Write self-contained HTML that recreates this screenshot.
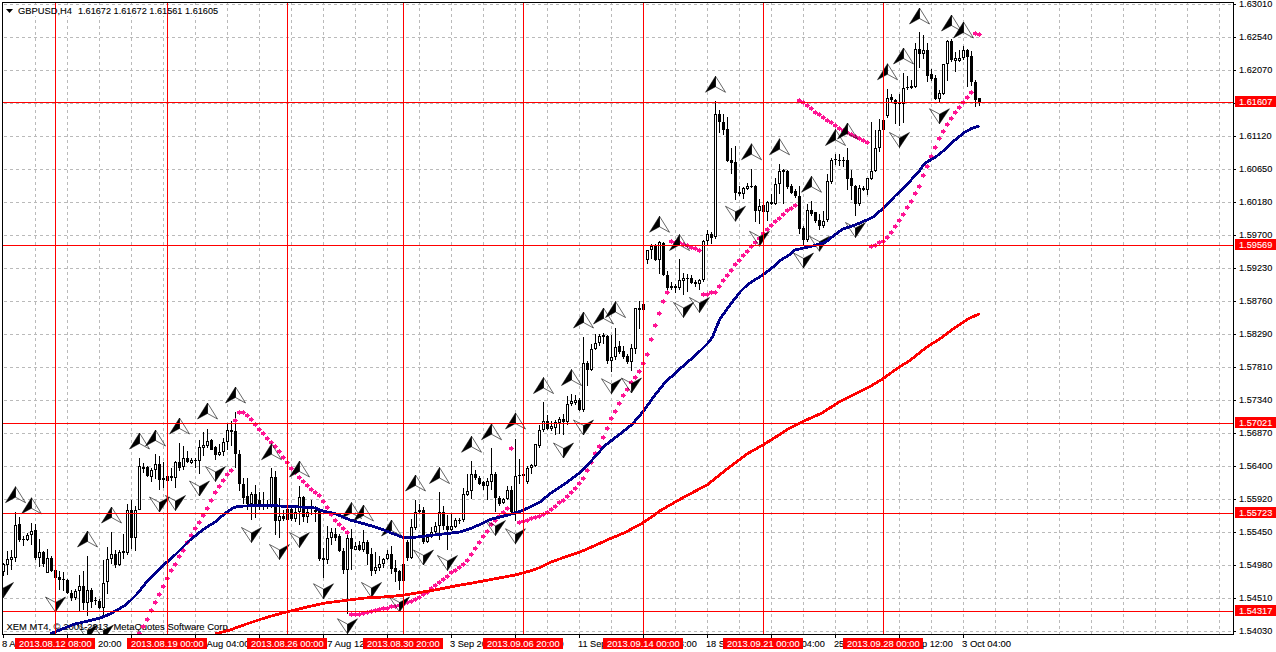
<!DOCTYPE html><html><head><meta charset="utf-8"><title>GBPUSD,H4</title><style>
html,body{margin:0;padding:0;background:#fff}body{width:1276px;height:652px;overflow:hidden;position:relative}
svg{position:absolute;left:0;top:0;display:block}text{font-family:"Liberation Sans",sans-serif;font-size:9.8px;fill:#000;stroke:#000;stroke-width:0.1px}
.w{fill:#fff;stroke:#fff}.g{stroke:#bababa;stroke-width:1;stroke-dasharray:3 3;fill:none}.r{stroke:#ff0000;stroke-width:1;fill:none}
</style></head><body>
<svg width="1276" height="652" viewBox="0 0 1276 652">
<rect x="0" y="0" width="1276" height="652" fill="#fff"/>
<defs><clipPath id="c"><rect x="3" y="3" width="1230" height="631"/></clipPath></defs>
<g shape-rendering="crispEdges">
<line class="g" x1="35.5" y1="3" x2="35.5" y2="634" stroke-dashoffset="1"/>
<line class="g" x1="67.5" y1="3" x2="67.5" y2="634" stroke-dashoffset="1"/>
<line class="g" x1="99.5" y1="3" x2="99.5" y2="634" stroke-dashoffset="1"/>
<line class="g" x1="131.5" y1="3" x2="131.5" y2="634" stroke-dashoffset="1"/>
<line class="g" x1="163.5" y1="3" x2="163.5" y2="634" stroke-dashoffset="1"/>
<line class="g" x1="195.5" y1="3" x2="195.5" y2="634" stroke-dashoffset="1"/>
<line class="g" x1="227.5" y1="3" x2="227.5" y2="634" stroke-dashoffset="1"/>
<line class="g" x1="259.5" y1="3" x2="259.5" y2="634" stroke-dashoffset="1"/>
<line class="g" x1="291.5" y1="3" x2="291.5" y2="634" stroke-dashoffset="1"/>
<line class="g" x1="323.5" y1="3" x2="323.5" y2="634" stroke-dashoffset="1"/>
<line class="g" x1="355.5" y1="3" x2="355.5" y2="634" stroke-dashoffset="1"/>
<line class="g" x1="387.5" y1="3" x2="387.5" y2="634" stroke-dashoffset="1"/>
<line class="g" x1="419.5" y1="3" x2="419.5" y2="634" stroke-dashoffset="1"/>
<line class="g" x1="451.5" y1="3" x2="451.5" y2="634" stroke-dashoffset="1"/>
<line class="g" x1="483.5" y1="3" x2="483.5" y2="634" stroke-dashoffset="1"/>
<line class="g" x1="515.5" y1="3" x2="515.5" y2="634" stroke-dashoffset="1"/>
<line class="g" x1="547.5" y1="3" x2="547.5" y2="634" stroke-dashoffset="1"/>
<line class="g" x1="579.5" y1="3" x2="579.5" y2="634" stroke-dashoffset="1"/>
<line class="g" x1="611.5" y1="3" x2="611.5" y2="634" stroke-dashoffset="1"/>
<line class="g" x1="643.5" y1="3" x2="643.5" y2="634" stroke-dashoffset="1"/>
<line class="g" x1="675.5" y1="3" x2="675.5" y2="634" stroke-dashoffset="1"/>
<line class="g" x1="707.5" y1="3" x2="707.5" y2="634" stroke-dashoffset="1"/>
<line class="g" x1="739.5" y1="3" x2="739.5" y2="634" stroke-dashoffset="1"/>
<line class="g" x1="771.5" y1="3" x2="771.5" y2="634" stroke-dashoffset="1"/>
<line class="g" x1="803.5" y1="3" x2="803.5" y2="634" stroke-dashoffset="1"/>
<line class="g" x1="835.5" y1="3" x2="835.5" y2="634" stroke-dashoffset="1"/>
<line class="g" x1="867.5" y1="3" x2="867.5" y2="634" stroke-dashoffset="1"/>
<line class="g" x1="899.5" y1="3" x2="899.5" y2="634" stroke-dashoffset="1"/>
<line class="g" x1="931.5" y1="3" x2="931.5" y2="634" stroke-dashoffset="1"/>
<line class="g" x1="963.5" y1="3" x2="963.5" y2="634" stroke-dashoffset="1"/>
<line class="g" x1="995.5" y1="3" x2="995.5" y2="634" stroke-dashoffset="1"/>
<line class="g" x1="1027.5" y1="3" x2="1027.5" y2="634" stroke-dashoffset="1"/>
<line class="g" x1="1059.5" y1="3" x2="1059.5" y2="634" stroke-dashoffset="1"/>
<line class="g" x1="1091.5" y1="3" x2="1091.5" y2="634" stroke-dashoffset="1"/>
<line class="g" x1="1123.5" y1="3" x2="1123.5" y2="634" stroke-dashoffset="1"/>
<line class="g" x1="1155.5" y1="3" x2="1155.5" y2="634" stroke-dashoffset="1"/>
<line class="g" x1="1187.5" y1="3" x2="1187.5" y2="634" stroke-dashoffset="1"/>
<line class="g" x1="1219.5" y1="3" x2="1219.5" y2="634" stroke-dashoffset="1"/>
<line class="g" x1="4" y1="4.5" x2="1233" y2="4.5"/>
<line class="g" x1="4" y1="37.5" x2="1233" y2="37.5"/>
<line class="g" x1="4" y1="70.5" x2="1233" y2="70.5"/>
<line class="g" x1="4" y1="103.5" x2="1233" y2="103.5"/>
<line class="g" x1="4" y1="136.5" x2="1233" y2="136.5"/>
<line class="g" x1="4" y1="169.5" x2="1233" y2="169.5"/>
<line class="g" x1="4" y1="202.5" x2="1233" y2="202.5"/>
<line class="g" x1="4" y1="235.5" x2="1233" y2="235.5"/>
<line class="g" x1="4" y1="268.5" x2="1233" y2="268.5"/>
<line class="g" x1="4" y1="301.5" x2="1233" y2="301.5"/>
<line class="g" x1="4" y1="334.5" x2="1233" y2="334.5"/>
<line class="g" x1="4" y1="367.5" x2="1233" y2="367.5"/>
<line class="g" x1="4" y1="400.5" x2="1233" y2="400.5"/>
<line class="g" x1="4" y1="433.5" x2="1233" y2="433.5"/>
<line class="g" x1="4" y1="466.5" x2="1233" y2="466.5"/>
<line class="g" x1="4" y1="499.5" x2="1233" y2="499.5"/>
<line class="g" x1="4" y1="532.5" x2="1233" y2="532.5"/>
<line class="g" x1="4" y1="565.5" x2="1233" y2="565.5"/>
<line class="g" x1="4" y1="598.5" x2="1233" y2="598.5"/>
<line class="g" x1="4" y1="631.5" x2="1233" y2="631.5"/>
</g>
<rect x="4" y="5" width="216" height="11" fill="#fff"/>
<text transform="translate(6.5 630) scale(0.962 1)" xml:space="preserve">XEM MT4, © 2001-2013, MetaQuotes Software Corp.</text>
<g shape-rendering="crispEdges" clip-path="url(#c)">
<rect x="3" y="563" width="1" height="13" fill="#000"/>
<rect x="2" y="564" width="3" height="8" fill="#000"/>
<rect x="3" y="565" width="1" height="6" fill="#fff"/>
<rect x="7" y="551" width="1" height="24" fill="#000"/>
<rect x="6" y="559" width="3" height="6" fill="#000"/>
<rect x="7" y="560" width="1" height="4" fill="#fff"/>
<rect x="11" y="550" width="1" height="20" fill="#000"/>
<rect x="10" y="557" width="3" height="3" fill="#000"/>
<rect x="11" y="558" width="1" height="1" fill="#fff"/>
<rect x="15" y="512" width="1" height="50" fill="#000"/>
<rect x="14" y="525" width="3" height="33" fill="#000"/>
<rect x="15" y="526" width="1" height="31" fill="#fff"/>
<rect x="19" y="517" width="1" height="25" fill="#000"/>
<rect x="18" y="524" width="3" height="16" fill="#000"/>
<rect x="23" y="536" width="1" height="10" fill="#000"/>
<rect x="22" y="539" width="3" height="1" fill="#000"/>
<rect x="27" y="533" width="1" height="8" fill="#000"/>
<rect x="26" y="535" width="3" height="5" fill="#000"/>
<rect x="27" y="536" width="1" height="3" fill="#fff"/>
<rect x="31" y="523" width="1" height="22" fill="#000"/>
<rect x="30" y="531" width="3" height="4" fill="#000"/>
<rect x="31" y="532" width="1" height="2" fill="#fff"/>
<rect x="35" y="524" width="1" height="36" fill="#000"/>
<rect x="34" y="530" width="3" height="28" fill="#000"/>
<rect x="39" y="539" width="1" height="28" fill="#000"/>
<rect x="38" y="552" width="3" height="6" fill="#000"/>
<rect x="39" y="553" width="1" height="4" fill="#fff"/>
<rect x="43" y="551" width="1" height="16" fill="#000"/>
<rect x="42" y="552" width="3" height="12" fill="#000"/>
<rect x="47" y="549" width="1" height="24" fill="#000"/>
<rect x="46" y="558" width="3" height="15" fill="#000"/>
<rect x="47" y="559" width="1" height="13" fill="#fff"/>
<rect x="51" y="556" width="1" height="16" fill="#000"/>
<rect x="50" y="558" width="3" height="13" fill="#000"/>
<rect x="55" y="570" width="1" height="21" fill="#000"/>
<rect x="54" y="570" width="3" height="8" fill="#000"/>
<rect x="59" y="571" width="1" height="19" fill="#000"/>
<rect x="58" y="577" width="3" height="3" fill="#000"/>
<rect x="63" y="572" width="1" height="19" fill="#000"/>
<rect x="62" y="579" width="3" height="1" fill="#000"/>
<rect x="67" y="579" width="1" height="15" fill="#000"/>
<rect x="66" y="580" width="3" height="13" fill="#000"/>
<rect x="71" y="590" width="1" height="11" fill="#000"/>
<rect x="70" y="593" width="3" height="5" fill="#000"/>
<rect x="75" y="589" width="1" height="11" fill="#000"/>
<rect x="74" y="591" width="3" height="7" fill="#000"/>
<rect x="75" y="592" width="1" height="5" fill="#fff"/>
<rect x="79" y="575" width="1" height="37" fill="#000"/>
<rect x="78" y="586" width="3" height="5" fill="#000"/>
<rect x="79" y="587" width="1" height="3" fill="#fff"/>
<rect x="83" y="571" width="1" height="39" fill="#000"/>
<rect x="82" y="586" width="3" height="17" fill="#000"/>
<rect x="87" y="556" width="1" height="60" fill="#000"/>
<rect x="86" y="590" width="3" height="13" fill="#000"/>
<rect x="87" y="591" width="1" height="11" fill="#fff"/>
<rect x="91" y="588" width="1" height="20" fill="#000"/>
<rect x="90" y="590" width="3" height="12" fill="#000"/>
<rect x="95" y="597" width="1" height="8" fill="#000"/>
<rect x="94" y="600" width="3" height="1" fill="#000"/>
<rect x="99" y="599" width="1" height="10" fill="#000"/>
<rect x="98" y="601" width="3" height="7" fill="#000"/>
<rect x="103" y="560" width="1" height="56" fill="#000"/>
<rect x="102" y="583" width="3" height="25" fill="#000"/>
<rect x="103" y="584" width="1" height="23" fill="#fff"/>
<rect x="107" y="547" width="1" height="47" fill="#000"/>
<rect x="106" y="559" width="3" height="23" fill="#000"/>
<rect x="107" y="560" width="1" height="21" fill="#fff"/>
<rect x="111" y="532" width="1" height="32" fill="#000"/>
<rect x="110" y="554" width="3" height="5" fill="#000"/>
<rect x="111" y="555" width="1" height="3" fill="#fff"/>
<rect x="115" y="550" width="1" height="18" fill="#000"/>
<rect x="114" y="554" width="3" height="11" fill="#000"/>
<rect x="119" y="550" width="1" height="16" fill="#000"/>
<rect x="118" y="552" width="3" height="13" fill="#000"/>
<rect x="119" y="553" width="1" height="11" fill="#fff"/>
<rect x="123" y="534" width="1" height="25" fill="#000"/>
<rect x="122" y="551" width="3" height="2" fill="#000"/>
<rect x="127" y="504" width="1" height="51" fill="#000"/>
<rect x="126" y="510" width="3" height="43" fill="#000"/>
<rect x="127" y="511" width="1" height="41" fill="#fff"/>
<rect x="131" y="500" width="1" height="49" fill="#000"/>
<rect x="130" y="510" width="3" height="28" fill="#000"/>
<rect x="135" y="506" width="1" height="45" fill="#000"/>
<rect x="134" y="510" width="3" height="28" fill="#000"/>
<rect x="135" y="511" width="1" height="26" fill="#fff"/>
<rect x="139" y="458" width="1" height="52" fill="#000"/>
<rect x="138" y="466" width="3" height="44" fill="#000"/>
<rect x="139" y="467" width="1" height="42" fill="#fff"/>
<rect x="143" y="463" width="1" height="10" fill="#000"/>
<rect x="142" y="467" width="3" height="2" fill="#000"/>
<rect x="147" y="466" width="1" height="11" fill="#000"/>
<rect x="146" y="467" width="3" height="9" fill="#000"/>
<rect x="151" y="468" width="1" height="14" fill="#000"/>
<rect x="150" y="470" width="3" height="7" fill="#000"/>
<rect x="151" y="471" width="1" height="5" fill="#fff"/>
<rect x="155" y="454" width="1" height="25" fill="#000"/>
<rect x="154" y="464" width="3" height="6" fill="#000"/>
<rect x="155" y="465" width="1" height="4" fill="#fff"/>
<rect x="159" y="456" width="1" height="34" fill="#000"/>
<rect x="158" y="464" width="3" height="16" fill="#000"/>
<rect x="163" y="462" width="1" height="26" fill="#000"/>
<rect x="162" y="478" width="3" height="2" fill="#000"/>
<rect x="167" y="475" width="1" height="7" fill="#000"/>
<rect x="166" y="476" width="3" height="5" fill="#000"/>
<rect x="171" y="468" width="1" height="13" fill="#000"/>
<rect x="170" y="476" width="3" height="2" fill="#000"/>
<rect x="175" y="461" width="1" height="27" fill="#000"/>
<rect x="174" y="462" width="3" height="16" fill="#000"/>
<rect x="175" y="463" width="1" height="14" fill="#fff"/>
<rect x="179" y="443" width="1" height="28" fill="#000"/>
<rect x="178" y="462" width="3" height="6" fill="#000"/>
<rect x="183" y="446" width="1" height="24" fill="#000"/>
<rect x="182" y="458" width="3" height="9" fill="#000"/>
<rect x="183" y="459" width="1" height="7" fill="#fff"/>
<rect x="187" y="451" width="1" height="12" fill="#000"/>
<rect x="186" y="458" width="3" height="4" fill="#000"/>
<rect x="191" y="458" width="1" height="6" fill="#000"/>
<rect x="190" y="460" width="3" height="3" fill="#000"/>
<rect x="191" y="461" width="1" height="1" fill="#fff"/>
<rect x="195" y="458" width="1" height="10" fill="#000"/>
<rect x="194" y="460" width="3" height="1" fill="#000"/>
<rect x="199" y="440" width="1" height="34" fill="#000"/>
<rect x="198" y="447" width="3" height="14" fill="#000"/>
<rect x="199" y="448" width="1" height="12" fill="#fff"/>
<rect x="203" y="432" width="1" height="24" fill="#000"/>
<rect x="202" y="445" width="3" height="3" fill="#000"/>
<rect x="203" y="446" width="1" height="1" fill="#fff"/>
<rect x="207" y="429" width="1" height="19" fill="#000"/>
<rect x="206" y="441" width="3" height="5" fill="#000"/>
<rect x="207" y="442" width="1" height="3" fill="#fff"/>
<rect x="211" y="439" width="1" height="11" fill="#000"/>
<rect x="210" y="440" width="3" height="10" fill="#000"/>
<rect x="215" y="446" width="1" height="14" fill="#000"/>
<rect x="214" y="447" width="3" height="8" fill="#000"/>
<rect x="219" y="444" width="1" height="12" fill="#000"/>
<rect x="218" y="452" width="3" height="3" fill="#000"/>
<rect x="219" y="453" width="1" height="1" fill="#fff"/>
<rect x="223" y="438" width="1" height="18" fill="#000"/>
<rect x="222" y="442" width="3" height="10" fill="#000"/>
<rect x="223" y="443" width="1" height="8" fill="#fff"/>
<rect x="227" y="424" width="1" height="26" fill="#000"/>
<rect x="226" y="430" width="3" height="12" fill="#000"/>
<rect x="227" y="431" width="1" height="10" fill="#fff"/>
<rect x="231" y="421" width="1" height="25" fill="#000"/>
<rect x="230" y="430" width="3" height="2" fill="#000"/>
<rect x="235" y="412" width="1" height="56" fill="#000"/>
<rect x="234" y="431" width="3" height="23" fill="#000"/>
<rect x="239" y="450" width="1" height="41" fill="#000"/>
<rect x="238" y="454" width="3" height="30" fill="#000"/>
<rect x="243" y="478" width="1" height="26" fill="#000"/>
<rect x="242" y="484" width="3" height="14" fill="#000"/>
<rect x="247" y="478" width="1" height="32" fill="#000"/>
<rect x="246" y="496" width="3" height="8" fill="#000"/>
<rect x="251" y="492" width="1" height="28" fill="#000"/>
<rect x="250" y="494" width="3" height="10" fill="#000"/>
<rect x="251" y="495" width="1" height="8" fill="#fff"/>
<rect x="255" y="485" width="1" height="33" fill="#000"/>
<rect x="254" y="494" width="3" height="10" fill="#000"/>
<rect x="259" y="492" width="1" height="18" fill="#000"/>
<rect x="258" y="500" width="3" height="5" fill="#000"/>
<rect x="263" y="492" width="1" height="18" fill="#000"/>
<rect x="262" y="504" width="3" height="2" fill="#000"/>
<rect x="267" y="500" width="1" height="9" fill="#000"/>
<rect x="266" y="505" width="3" height="1" fill="#000"/>
<rect x="271" y="468" width="1" height="40" fill="#000"/>
<rect x="270" y="477" width="3" height="29" fill="#000"/>
<rect x="271" y="478" width="1" height="27" fill="#fff"/>
<rect x="275" y="471" width="1" height="64" fill="#000"/>
<rect x="274" y="477" width="3" height="44" fill="#000"/>
<rect x="279" y="498" width="1" height="40" fill="#000"/>
<rect x="278" y="516" width="3" height="5" fill="#000"/>
<rect x="279" y="517" width="1" height="3" fill="#fff"/>
<rect x="283" y="510" width="1" height="11" fill="#000"/>
<rect x="282" y="516" width="3" height="3" fill="#000"/>
<rect x="287" y="506" width="1" height="14" fill="#000"/>
<rect x="286" y="509" width="3" height="11" fill="#000"/>
<rect x="291" y="506" width="1" height="15" fill="#000"/>
<rect x="290" y="509" width="3" height="10" fill="#000"/>
<rect x="295" y="508" width="1" height="14" fill="#000"/>
<rect x="294" y="512" width="3" height="7" fill="#000"/>
<rect x="295" y="513" width="1" height="5" fill="#fff"/>
<rect x="299" y="486" width="1" height="39" fill="#000"/>
<rect x="298" y="497" width="3" height="15" fill="#000"/>
<rect x="299" y="498" width="1" height="13" fill="#fff"/>
<rect x="303" y="496" width="1" height="26" fill="#000"/>
<rect x="302" y="497" width="3" height="20" fill="#000"/>
<rect x="307" y="508" width="1" height="15" fill="#000"/>
<rect x="306" y="512" width="3" height="5" fill="#000"/>
<rect x="307" y="513" width="1" height="3" fill="#fff"/>
<rect x="311" y="500" width="1" height="15" fill="#000"/>
<rect x="310" y="513" width="3" height="1" fill="#000"/>
<rect x="315" y="506" width="1" height="16" fill="#000"/>
<rect x="314" y="510" width="3" height="2" fill="#000"/>
<rect x="319" y="510" width="1" height="51" fill="#000"/>
<rect x="318" y="511" width="3" height="48" fill="#000"/>
<rect x="323" y="548" width="1" height="30" fill="#000"/>
<rect x="322" y="558" width="3" height="2" fill="#000"/>
<rect x="327" y="526" width="1" height="38" fill="#000"/>
<rect x="326" y="538" width="3" height="22" fill="#000"/>
<rect x="327" y="539" width="1" height="20" fill="#fff"/>
<rect x="331" y="528" width="1" height="17" fill="#000"/>
<rect x="330" y="532" width="3" height="6" fill="#000"/>
<rect x="331" y="533" width="1" height="4" fill="#fff"/>
<rect x="335" y="528" width="1" height="13" fill="#000"/>
<rect x="334" y="534" width="3" height="4" fill="#000"/>
<rect x="339" y="534" width="1" height="18" fill="#000"/>
<rect x="338" y="536" width="3" height="15" fill="#000"/>
<rect x="343" y="548" width="1" height="26" fill="#000"/>
<rect x="342" y="551" width="3" height="19" fill="#000"/>
<rect x="347" y="530" width="1" height="84" fill="#000"/>
<rect x="346" y="538" width="3" height="32" fill="#000"/>
<rect x="347" y="539" width="1" height="30" fill="#fff"/>
<rect x="351" y="529" width="1" height="41" fill="#000"/>
<rect x="350" y="538" width="3" height="11" fill="#000"/>
<rect x="355" y="542" width="1" height="8" fill="#000"/>
<rect x="354" y="546" width="3" height="4" fill="#000"/>
<rect x="355" y="547" width="1" height="2" fill="#fff"/>
<rect x="359" y="541" width="1" height="10" fill="#000"/>
<rect x="358" y="545" width="3" height="5" fill="#000"/>
<rect x="363" y="530" width="1" height="22" fill="#000"/>
<rect x="362" y="542" width="3" height="8" fill="#000"/>
<rect x="363" y="543" width="1" height="6" fill="#fff"/>
<rect x="367" y="540" width="1" height="25" fill="#000"/>
<rect x="366" y="542" width="3" height="12" fill="#000"/>
<rect x="371" y="548" width="1" height="28" fill="#000"/>
<rect x="370" y="554" width="3" height="17" fill="#000"/>
<rect x="375" y="552" width="1" height="22" fill="#000"/>
<rect x="374" y="567" width="3" height="4" fill="#000"/>
<rect x="375" y="568" width="1" height="2" fill="#fff"/>
<rect x="379" y="556" width="1" height="15" fill="#000"/>
<rect x="378" y="564" width="3" height="4" fill="#000"/>
<rect x="379" y="565" width="1" height="2" fill="#fff"/>
<rect x="383" y="558" width="1" height="10" fill="#000"/>
<rect x="382" y="559" width="3" height="5" fill="#000"/>
<rect x="383" y="560" width="1" height="3" fill="#fff"/>
<rect x="387" y="550" width="1" height="10" fill="#000"/>
<rect x="386" y="554" width="3" height="5" fill="#000"/>
<rect x="387" y="555" width="1" height="3" fill="#fff"/>
<rect x="391" y="546" width="1" height="28" fill="#000"/>
<rect x="390" y="554" width="3" height="15" fill="#000"/>
<rect x="395" y="560" width="1" height="22" fill="#000"/>
<rect x="394" y="568" width="3" height="4" fill="#000"/>
<rect x="399" y="570" width="1" height="20" fill="#000"/>
<rect x="398" y="571" width="3" height="10" fill="#000"/>
<rect x="403" y="562" width="1" height="20" fill="#000"/>
<rect x="402" y="564" width="3" height="17" fill="#000"/>
<rect x="407" y="540" width="1" height="21" fill="#000"/>
<rect x="406" y="542" width="3" height="16" fill="#000"/>
<rect x="411" y="519" width="1" height="40" fill="#000"/>
<rect x="410" y="527" width="3" height="31" fill="#000"/>
<rect x="411" y="528" width="1" height="29" fill="#fff"/>
<rect x="415" y="500" width="1" height="30" fill="#000"/>
<rect x="414" y="512" width="3" height="16" fill="#000"/>
<rect x="415" y="513" width="1" height="14" fill="#fff"/>
<rect x="419" y="504" width="1" height="10" fill="#000"/>
<rect x="418" y="510" width="3" height="2" fill="#000"/>
<rect x="423" y="507" width="1" height="37" fill="#000"/>
<rect x="422" y="510" width="3" height="32" fill="#000"/>
<rect x="427" y="536" width="1" height="7" fill="#000"/>
<rect x="426" y="537" width="3" height="5" fill="#000"/>
<rect x="427" y="538" width="1" height="3" fill="#fff"/>
<rect x="431" y="527" width="1" height="11" fill="#000"/>
<rect x="430" y="532" width="3" height="5" fill="#000"/>
<rect x="431" y="533" width="1" height="3" fill="#fff"/>
<rect x="435" y="522" width="1" height="12" fill="#000"/>
<rect x="434" y="526" width="3" height="6" fill="#000"/>
<rect x="435" y="527" width="1" height="4" fill="#fff"/>
<rect x="439" y="492" width="1" height="48" fill="#000"/>
<rect x="438" y="512" width="3" height="14" fill="#000"/>
<rect x="439" y="513" width="1" height="12" fill="#fff"/>
<rect x="443" y="506" width="1" height="24" fill="#000"/>
<rect x="442" y="512" width="3" height="14" fill="#000"/>
<rect x="447" y="515" width="1" height="35" fill="#000"/>
<rect x="446" y="526" width="3" height="4" fill="#000"/>
<rect x="451" y="514" width="1" height="17" fill="#000"/>
<rect x="450" y="526" width="3" height="4" fill="#000"/>
<rect x="451" y="527" width="1" height="2" fill="#fff"/>
<rect x="455" y="518" width="1" height="10" fill="#000"/>
<rect x="454" y="520" width="3" height="7" fill="#000"/>
<rect x="455" y="521" width="1" height="5" fill="#fff"/>
<rect x="459" y="518" width="1" height="6" fill="#000"/>
<rect x="458" y="520" width="3" height="1" fill="#000"/>
<rect x="463" y="488" width="1" height="34" fill="#000"/>
<rect x="462" y="494" width="3" height="26" fill="#000"/>
<rect x="463" y="495" width="1" height="24" fill="#fff"/>
<rect x="467" y="474" width="1" height="22" fill="#000"/>
<rect x="466" y="491" width="3" height="4" fill="#000"/>
<rect x="467" y="492" width="1" height="2" fill="#fff"/>
<rect x="471" y="461" width="1" height="38" fill="#000"/>
<rect x="470" y="474" width="3" height="17" fill="#000"/>
<rect x="471" y="475" width="1" height="15" fill="#fff"/>
<rect x="475" y="470" width="1" height="10" fill="#000"/>
<rect x="474" y="474" width="3" height="4" fill="#000"/>
<rect x="479" y="476" width="1" height="9" fill="#000"/>
<rect x="478" y="478" width="3" height="6" fill="#000"/>
<rect x="483" y="481" width="1" height="9" fill="#000"/>
<rect x="482" y="482" width="3" height="4" fill="#000"/>
<rect x="487" y="478" width="1" height="22" fill="#000"/>
<rect x="486" y="481" width="3" height="5" fill="#000"/>
<rect x="487" y="482" width="1" height="3" fill="#fff"/>
<rect x="491" y="448" width="1" height="42" fill="#000"/>
<rect x="490" y="474" width="3" height="8" fill="#000"/>
<rect x="491" y="475" width="1" height="6" fill="#fff"/>
<rect x="495" y="472" width="1" height="40" fill="#000"/>
<rect x="494" y="474" width="3" height="24" fill="#000"/>
<rect x="499" y="496" width="1" height="10" fill="#000"/>
<rect x="498" y="498" width="3" height="6" fill="#000"/>
<rect x="503" y="498" width="1" height="6" fill="#000"/>
<rect x="502" y="499" width="3" height="4" fill="#000"/>
<rect x="503" y="500" width="1" height="2" fill="#fff"/>
<rect x="507" y="486" width="1" height="14" fill="#000"/>
<rect x="506" y="490" width="3" height="9" fill="#000"/>
<rect x="507" y="491" width="1" height="7" fill="#fff"/>
<rect x="511" y="486" width="1" height="28" fill="#000"/>
<rect x="510" y="490" width="3" height="22" fill="#000"/>
<rect x="515" y="439" width="1" height="82" fill="#000"/>
<rect x="514" y="476" width="3" height="36" fill="#000"/>
<rect x="515" y="477" width="1" height="34" fill="#fff"/>
<rect x="519" y="459" width="1" height="25" fill="#000"/>
<rect x="518" y="475" width="3" height="1" fill="#000"/>
<rect x="523" y="465" width="1" height="15" fill="#000"/>
<rect x="522" y="474" width="3" height="2" fill="#000"/>
<rect x="527" y="466" width="1" height="18" fill="#000"/>
<rect x="526" y="468" width="3" height="14" fill="#000"/>
<rect x="527" y="469" width="1" height="12" fill="#fff"/>
<rect x="531" y="464" width="1" height="10" fill="#000"/>
<rect x="530" y="465" width="3" height="3" fill="#000"/>
<rect x="531" y="466" width="1" height="1" fill="#fff"/>
<rect x="535" y="444" width="1" height="23" fill="#000"/>
<rect x="534" y="444" width="3" height="22" fill="#000"/>
<rect x="535" y="445" width="1" height="20" fill="#fff"/>
<rect x="539" y="425" width="1" height="23" fill="#000"/>
<rect x="538" y="430" width="3" height="16" fill="#000"/>
<rect x="539" y="431" width="1" height="14" fill="#fff"/>
<rect x="543" y="402" width="1" height="30" fill="#000"/>
<rect x="542" y="421" width="3" height="9" fill="#000"/>
<rect x="543" y="422" width="1" height="7" fill="#fff"/>
<rect x="547" y="415" width="1" height="15" fill="#000"/>
<rect x="546" y="421" width="3" height="8" fill="#000"/>
<rect x="551" y="421" width="1" height="10" fill="#000"/>
<rect x="550" y="426" width="3" height="3" fill="#000"/>
<rect x="551" y="427" width="1" height="1" fill="#fff"/>
<rect x="555" y="420" width="1" height="15" fill="#000"/>
<rect x="554" y="422" width="3" height="6" fill="#000"/>
<rect x="555" y="423" width="1" height="4" fill="#fff"/>
<rect x="559" y="417" width="1" height="17" fill="#000"/>
<rect x="558" y="419" width="3" height="4" fill="#000"/>
<rect x="559" y="420" width="1" height="2" fill="#fff"/>
<rect x="563" y="414" width="1" height="21" fill="#000"/>
<rect x="562" y="419" width="3" height="3" fill="#000"/>
<rect x="567" y="396" width="1" height="29" fill="#000"/>
<rect x="566" y="404" width="3" height="18" fill="#000"/>
<rect x="567" y="405" width="1" height="16" fill="#fff"/>
<rect x="571" y="394" width="1" height="12" fill="#000"/>
<rect x="570" y="401" width="3" height="3" fill="#000"/>
<rect x="571" y="402" width="1" height="1" fill="#fff"/>
<rect x="575" y="395" width="1" height="10" fill="#000"/>
<rect x="574" y="400" width="3" height="3" fill="#000"/>
<rect x="575" y="401" width="1" height="1" fill="#fff"/>
<rect x="579" y="398" width="1" height="13" fill="#000"/>
<rect x="578" y="400" width="3" height="10" fill="#000"/>
<rect x="583" y="337" width="1" height="75" fill="#000"/>
<rect x="582" y="363" width="3" height="47" fill="#000"/>
<rect x="583" y="364" width="1" height="45" fill="#fff"/>
<rect x="587" y="361" width="1" height="25" fill="#000"/>
<rect x="586" y="363" width="3" height="7" fill="#000"/>
<rect x="591" y="344" width="1" height="27" fill="#000"/>
<rect x="590" y="349" width="3" height="21" fill="#000"/>
<rect x="591" y="350" width="1" height="19" fill="#fff"/>
<rect x="595" y="334" width="1" height="16" fill="#000"/>
<rect x="594" y="343" width="3" height="6" fill="#000"/>
<rect x="595" y="344" width="1" height="4" fill="#fff"/>
<rect x="599" y="334" width="1" height="12" fill="#000"/>
<rect x="598" y="336" width="3" height="7" fill="#000"/>
<rect x="599" y="337" width="1" height="5" fill="#fff"/>
<rect x="603" y="333" width="1" height="11" fill="#000"/>
<rect x="602" y="335" width="3" height="2" fill="#000"/>
<rect x="607" y="335" width="1" height="29" fill="#000"/>
<rect x="606" y="336" width="3" height="25" fill="#000"/>
<rect x="611" y="335" width="1" height="37" fill="#000"/>
<rect x="610" y="357" width="3" height="4" fill="#000"/>
<rect x="611" y="358" width="1" height="2" fill="#fff"/>
<rect x="615" y="328" width="1" height="32" fill="#000"/>
<rect x="614" y="347" width="3" height="10" fill="#000"/>
<rect x="615" y="348" width="1" height="8" fill="#fff"/>
<rect x="619" y="341" width="1" height="13" fill="#000"/>
<rect x="618" y="346" width="3" height="6" fill="#000"/>
<rect x="623" y="346" width="1" height="13" fill="#000"/>
<rect x="622" y="351" width="3" height="6" fill="#000"/>
<rect x="627" y="354" width="1" height="10" fill="#000"/>
<rect x="626" y="356" width="3" height="6" fill="#000"/>
<rect x="631" y="344" width="1" height="27" fill="#000"/>
<rect x="630" y="348" width="3" height="14" fill="#000"/>
<rect x="631" y="349" width="1" height="12" fill="#fff"/>
<rect x="635" y="308" width="1" height="46" fill="#000"/>
<rect x="634" y="308" width="3" height="41" fill="#000"/>
<rect x="635" y="309" width="1" height="39" fill="#fff"/>
<rect x="639" y="301" width="1" height="28" fill="#000"/>
<rect x="638" y="308" width="3" height="2" fill="#000"/>
<rect x="643" y="300" width="1" height="12" fill="#000"/>
<rect x="642" y="304" width="3" height="6" fill="#000"/>
<rect x="647" y="250" width="1" height="14" fill="#000"/>
<rect x="646" y="250" width="3" height="10" fill="#000"/>
<rect x="647" y="251" width="1" height="8" fill="#fff"/>
<rect x="651" y="244" width="1" height="15" fill="#000"/>
<rect x="650" y="246" width="3" height="4" fill="#000"/>
<rect x="651" y="247" width="1" height="2" fill="#fff"/>
<rect x="655" y="244" width="1" height="17" fill="#000"/>
<rect x="654" y="246" width="3" height="14" fill="#000"/>
<rect x="659" y="241" width="1" height="33" fill="#000"/>
<rect x="658" y="242" width="3" height="18" fill="#000"/>
<rect x="659" y="243" width="1" height="16" fill="#fff"/>
<rect x="663" y="242" width="1" height="34" fill="#000"/>
<rect x="662" y="243" width="3" height="32" fill="#000"/>
<rect x="667" y="271" width="1" height="19" fill="#000"/>
<rect x="666" y="275" width="3" height="13" fill="#000"/>
<rect x="671" y="282" width="1" height="8" fill="#000"/>
<rect x="670" y="286" width="3" height="2" fill="#000"/>
<rect x="675" y="284" width="1" height="9" fill="#000"/>
<rect x="674" y="286" width="3" height="2" fill="#000"/>
<rect x="679" y="259" width="1" height="31" fill="#000"/>
<rect x="678" y="280" width="3" height="8" fill="#000"/>
<rect x="679" y="281" width="1" height="6" fill="#fff"/>
<rect x="683" y="273" width="1" height="22" fill="#000"/>
<rect x="682" y="278" width="3" height="3" fill="#000"/>
<rect x="683" y="279" width="1" height="1" fill="#fff"/>
<rect x="687" y="274" width="1" height="18" fill="#000"/>
<rect x="686" y="278" width="3" height="1" fill="#000"/>
<rect x="691" y="275" width="1" height="9" fill="#000"/>
<rect x="690" y="278" width="3" height="5" fill="#000"/>
<rect x="695" y="280" width="1" height="7" fill="#000"/>
<rect x="694" y="282" width="3" height="2" fill="#000"/>
<rect x="699" y="279" width="1" height="11" fill="#000"/>
<rect x="698" y="280" width="3" height="4" fill="#000"/>
<rect x="699" y="281" width="1" height="2" fill="#fff"/>
<rect x="703" y="240" width="1" height="42" fill="#000"/>
<rect x="702" y="241" width="3" height="39" fill="#000"/>
<rect x="703" y="242" width="1" height="37" fill="#fff"/>
<rect x="707" y="230" width="1" height="16" fill="#000"/>
<rect x="706" y="234" width="3" height="7" fill="#000"/>
<rect x="707" y="235" width="1" height="5" fill="#fff"/>
<rect x="711" y="232" width="1" height="12" fill="#000"/>
<rect x="710" y="234" width="3" height="4" fill="#000"/>
<rect x="715" y="101" width="1" height="138" fill="#000"/>
<rect x="714" y="114" width="3" height="123" fill="#000"/>
<rect x="715" y="115" width="1" height="121" fill="#fff"/>
<rect x="719" y="110" width="1" height="23" fill="#000"/>
<rect x="718" y="114" width="3" height="8" fill="#000"/>
<rect x="723" y="114" width="1" height="21" fill="#000"/>
<rect x="722" y="122" width="3" height="8" fill="#000"/>
<rect x="727" y="117" width="1" height="45" fill="#000"/>
<rect x="726" y="129" width="3" height="32" fill="#000"/>
<rect x="731" y="148" width="1" height="26" fill="#000"/>
<rect x="730" y="160" width="3" height="3" fill="#000"/>
<rect x="735" y="146" width="1" height="54" fill="#000"/>
<rect x="734" y="162" width="3" height="31" fill="#000"/>
<rect x="739" y="186" width="1" height="10" fill="#000"/>
<rect x="738" y="192" width="3" height="2" fill="#000"/>
<rect x="743" y="187" width="1" height="12" fill="#000"/>
<rect x="742" y="188" width="3" height="6" fill="#000"/>
<rect x="743" y="189" width="1" height="4" fill="#fff"/>
<rect x="747" y="183" width="1" height="7" fill="#000"/>
<rect x="746" y="186" width="3" height="3" fill="#000"/>
<rect x="747" y="187" width="1" height="1" fill="#fff"/>
<rect x="751" y="169" width="1" height="19" fill="#000"/>
<rect x="750" y="186" width="3" height="1" fill="#000"/>
<rect x="755" y="185" width="1" height="37" fill="#000"/>
<rect x="754" y="186" width="3" height="25" fill="#000"/>
<rect x="759" y="199" width="1" height="25" fill="#000"/>
<rect x="758" y="206" width="3" height="5" fill="#000"/>
<rect x="759" y="207" width="1" height="3" fill="#fff"/>
<rect x="763" y="200" width="1" height="22" fill="#000"/>
<rect x="762" y="205" width="3" height="7" fill="#000"/>
<rect x="767" y="201" width="1" height="20" fill="#000"/>
<rect x="766" y="202" width="3" height="10" fill="#000"/>
<rect x="767" y="203" width="1" height="8" fill="#fff"/>
<rect x="771" y="194" width="1" height="11" fill="#000"/>
<rect x="770" y="202" width="3" height="2" fill="#000"/>
<rect x="775" y="178" width="1" height="27" fill="#000"/>
<rect x="774" y="184" width="3" height="20" fill="#000"/>
<rect x="775" y="185" width="1" height="18" fill="#fff"/>
<rect x="779" y="164" width="1" height="30" fill="#000"/>
<rect x="778" y="171" width="3" height="13" fill="#000"/>
<rect x="779" y="172" width="1" height="11" fill="#fff"/>
<rect x="783" y="169" width="1" height="35" fill="#000"/>
<rect x="782" y="170" width="3" height="2" fill="#000"/>
<rect x="787" y="170" width="1" height="19" fill="#000"/>
<rect x="786" y="171" width="3" height="16" fill="#000"/>
<rect x="791" y="184" width="1" height="10" fill="#000"/>
<rect x="790" y="186" width="3" height="7" fill="#000"/>
<rect x="795" y="189" width="1" height="9" fill="#000"/>
<rect x="794" y="191" width="3" height="5" fill="#000"/>
<rect x="799" y="186" width="1" height="48" fill="#000"/>
<rect x="798" y="196" width="3" height="33" fill="#000"/>
<rect x="803" y="226" width="1" height="20" fill="#000"/>
<rect x="802" y="228" width="3" height="12" fill="#000"/>
<rect x="807" y="204" width="1" height="38" fill="#000"/>
<rect x="806" y="210" width="3" height="30" fill="#000"/>
<rect x="807" y="211" width="1" height="28" fill="#fff"/>
<rect x="811" y="201" width="1" height="15" fill="#000"/>
<rect x="810" y="210" width="3" height="4" fill="#000"/>
<rect x="815" y="212" width="1" height="11" fill="#000"/>
<rect x="814" y="212" width="3" height="9" fill="#000"/>
<rect x="819" y="214" width="1" height="16" fill="#000"/>
<rect x="818" y="220" width="3" height="6" fill="#000"/>
<rect x="823" y="211" width="1" height="17" fill="#000"/>
<rect x="822" y="221" width="3" height="5" fill="#000"/>
<rect x="823" y="222" width="1" height="3" fill="#fff"/>
<rect x="827" y="174" width="1" height="48" fill="#000"/>
<rect x="826" y="181" width="3" height="39" fill="#000"/>
<rect x="827" y="182" width="1" height="37" fill="#fff"/>
<rect x="831" y="158" width="1" height="26" fill="#000"/>
<rect x="830" y="160" width="3" height="22" fill="#000"/>
<rect x="831" y="161" width="1" height="20" fill="#fff"/>
<rect x="835" y="154" width="1" height="11" fill="#000"/>
<rect x="834" y="159" width="3" height="1" fill="#000"/>
<rect x="839" y="154" width="1" height="12" fill="#000"/>
<rect x="838" y="160" width="3" height="1" fill="#000"/>
<rect x="843" y="157" width="1" height="10" fill="#000"/>
<rect x="842" y="160" width="3" height="1" fill="#000"/>
<rect x="847" y="148" width="1" height="42" fill="#000"/>
<rect x="846" y="160" width="3" height="19" fill="#000"/>
<rect x="851" y="170" width="1" height="30" fill="#000"/>
<rect x="850" y="178" width="3" height="8" fill="#000"/>
<rect x="855" y="185" width="1" height="31" fill="#000"/>
<rect x="854" y="186" width="3" height="18" fill="#000"/>
<rect x="859" y="185" width="1" height="21" fill="#000"/>
<rect x="858" y="188" width="3" height="16" fill="#000"/>
<rect x="859" y="189" width="1" height="14" fill="#fff"/>
<rect x="863" y="186" width="1" height="5" fill="#000"/>
<rect x="862" y="188" width="3" height="2" fill="#000"/>
<rect x="867" y="178" width="1" height="17" fill="#000"/>
<rect x="866" y="178" width="3" height="12" fill="#000"/>
<rect x="867" y="179" width="1" height="10" fill="#fff"/>
<rect x="871" y="122" width="1" height="58" fill="#000"/>
<rect x="870" y="171" width="3" height="8" fill="#000"/>
<rect x="871" y="172" width="1" height="6" fill="#fff"/>
<rect x="875" y="130" width="1" height="42" fill="#000"/>
<rect x="874" y="148" width="3" height="23" fill="#000"/>
<rect x="875" y="149" width="1" height="21" fill="#fff"/>
<rect x="879" y="119" width="1" height="33" fill="#000"/>
<rect x="878" y="130" width="3" height="18" fill="#000"/>
<rect x="879" y="131" width="1" height="16" fill="#fff"/>
<rect x="883" y="118" width="1" height="14" fill="#000"/>
<rect x="882" y="120" width="3" height="10" fill="#000"/>
<rect x="887" y="89" width="1" height="29" fill="#000"/>
<rect x="886" y="98" width="3" height="18" fill="#000"/>
<rect x="887" y="99" width="1" height="16" fill="#fff"/>
<rect x="891" y="94" width="1" height="8" fill="#000"/>
<rect x="890" y="97" width="3" height="3" fill="#000"/>
<rect x="895" y="99" width="1" height="25" fill="#000"/>
<rect x="894" y="100" width="3" height="4" fill="#000"/>
<rect x="899" y="94" width="1" height="32" fill="#000"/>
<rect x="898" y="103" width="3" height="1" fill="#000"/>
<rect x="903" y="73" width="1" height="50" fill="#000"/>
<rect x="902" y="88" width="3" height="16" fill="#000"/>
<rect x="903" y="89" width="1" height="14" fill="#fff"/>
<rect x="907" y="76" width="1" height="14" fill="#000"/>
<rect x="906" y="87" width="3" height="1" fill="#000"/>
<rect x="911" y="80" width="1" height="9" fill="#000"/>
<rect x="910" y="86" width="3" height="2" fill="#000"/>
<rect x="915" y="43" width="1" height="45" fill="#000"/>
<rect x="914" y="49" width="3" height="38" fill="#000"/>
<rect x="915" y="50" width="1" height="36" fill="#fff"/>
<rect x="919" y="32" width="1" height="36" fill="#000"/>
<rect x="918" y="49" width="3" height="5" fill="#000"/>
<rect x="923" y="35" width="1" height="24" fill="#000"/>
<rect x="922" y="50" width="3" height="4" fill="#000"/>
<rect x="923" y="51" width="1" height="2" fill="#fff"/>
<rect x="927" y="43" width="1" height="39" fill="#000"/>
<rect x="926" y="50" width="3" height="26" fill="#000"/>
<rect x="931" y="69" width="1" height="12" fill="#000"/>
<rect x="930" y="74" width="3" height="5" fill="#000"/>
<rect x="935" y="75" width="1" height="25" fill="#000"/>
<rect x="934" y="78" width="3" height="21" fill="#000"/>
<rect x="939" y="90" width="1" height="12" fill="#000"/>
<rect x="938" y="93" width="3" height="6" fill="#000"/>
<rect x="939" y="94" width="1" height="4" fill="#fff"/>
<rect x="943" y="64" width="1" height="31" fill="#000"/>
<rect x="942" y="64" width="3" height="30" fill="#000"/>
<rect x="943" y="65" width="1" height="28" fill="#fff"/>
<rect x="947" y="40" width="1" height="41" fill="#000"/>
<rect x="946" y="41" width="3" height="23" fill="#000"/>
<rect x="947" y="42" width="1" height="21" fill="#fff"/>
<rect x="951" y="39" width="1" height="23" fill="#000"/>
<rect x="950" y="41" width="3" height="19" fill="#000"/>
<rect x="955" y="52" width="1" height="20" fill="#000"/>
<rect x="954" y="58" width="3" height="3" fill="#000"/>
<rect x="955" y="59" width="1" height="1" fill="#fff"/>
<rect x="959" y="50" width="1" height="12" fill="#000"/>
<rect x="958" y="58" width="3" height="3" fill="#000"/>
<rect x="959" y="59" width="1" height="1" fill="#fff"/>
<rect x="963" y="46" width="1" height="14" fill="#000"/>
<rect x="962" y="50" width="3" height="8" fill="#000"/>
<rect x="963" y="51" width="1" height="6" fill="#fff"/>
<rect x="967" y="49" width="1" height="38" fill="#000"/>
<rect x="966" y="50" width="3" height="7" fill="#000"/>
<rect x="971" y="51" width="1" height="35" fill="#000"/>
<rect x="970" y="56" width="3" height="26" fill="#000"/>
<rect x="975" y="80" width="1" height="27" fill="#000"/>
<rect x="974" y="82" width="3" height="18" fill="#000"/>
<rect x="979" y="98" width="1" height="8" fill="#000"/>
<rect x="978" y="98" width="3" height="4" fill="#000"/>
</g>
<g shape-rendering="crispEdges" fill="#ff1493" clip-path="url(#c)">
<path d="M139 631h1v1h1v1h1v1h-1v1h-1v1h-1v-1h-2v-3h2z"/>
<path d="M143 624h1v1h1v1h1v1h-1v1h-1v1h-1v-1h-2v-3h2z"/>
<path d="M147 617h1v1h1v1h1v1h-1v1h-1v1h-1v-1h-2v-3h2z"/>
<path d="M151 608h1v1h1v1h1v1h-1v1h-1v1h-1v-1h-2v-3h2z"/>
<path d="M155 600h1v1h1v1h1v1h-1v1h-1v1h-1v-1h-2v-3h2z"/>
<path d="M159 592h1v1h1v1h1v1h-1v1h-1v1h-1v-1h-2v-3h2z"/>
<path d="M163 584h1v1h1v1h1v1h-1v1h-1v1h-1v-1h-2v-3h2z"/>
<path d="M167 576h1v1h1v1h1v1h-1v1h-1v1h-1v-1h-2v-3h2z"/>
<path d="M171 568h1v1h1v1h1v1h-1v1h-1v1h-1v-1h-2v-3h2z"/>
<path d="M175 562h1v1h1v1h1v1h-1v1h-1v1h-1v-1h-2v-3h2z"/>
<path d="M179 554h1v1h1v1h1v1h-1v1h-1v1h-1v-1h-2v-3h2z"/>
<path d="M183 548h1v1h1v1h1v1h-1v1h-1v1h-1v-1h-2v-3h2z"/>
<path d="M187 540h1v1h1v1h1v1h-1v1h-1v1h-1v-1h-2v-3h2z"/>
<path d="M191 533h1v1h1v1h1v1h-1v1h-1v1h-1v-1h-2v-3h2z"/>
<path d="M195 526h1v1h1v1h1v1h-1v1h-1v1h-1v-1h-2v-3h2z"/>
<path d="M199 520h1v1h1v1h1v1h-1v1h-1v1h-1v-1h-2v-3h2z"/>
<path d="M203 513h1v1h1v1h1v1h-1v1h-1v1h-1v-1h-2v-3h2z"/>
<path d="M207 506h1v1h1v1h1v1h-1v1h-1v1h-1v-1h-2v-3h2z"/>
<path d="M211 498h1v1h1v1h1v1h-1v1h-1v1h-1v-1h-2v-3h2z"/>
<path d="M215 490h1v1h1v1h1v1h-1v1h-1v1h-1v-1h-2v-3h2z"/>
<path d="M219 484h1v1h1v1h1v1h-1v1h-1v1h-1v-1h-2v-3h2z"/>
<path d="M223 478h1v1h1v1h1v1h-1v1h-1v1h-1v-1h-2v-3h2z"/>
<path d="M227 472h1v1h1v1h1v1h-1v1h-1v1h-1v-1h-2v-3h2z"/>
<path d="M231 468h1v1h1v1h1v1h-1v1h-1v1h-1v-1h-2v-3h2z"/>
<path d="M235 418h1v1h1v1h1v1h-1v1h-1v1h-1v-1h-2v-3h2z"/>
<path d="M239 410h1v1h1v1h1v1h-1v1h-1v1h-1v-1h-2v-3h2z"/>
<path d="M243 410h1v1h1v1h1v1h-1v1h-1v1h-1v-1h-2v-3h2z"/>
<path d="M247 413h1v1h1v1h1v1h-1v1h-1v1h-1v-1h-2v-3h2z"/>
<path d="M251 417h1v1h1v1h1v1h-1v1h-1v1h-1v-1h-2v-3h2z"/>
<path d="M255 422h1v1h1v1h1v1h-1v1h-1v1h-1v-1h-2v-3h2z"/>
<path d="M259 427h1v1h1v1h1v1h-1v1h-1v1h-1v-1h-2v-3h2z"/>
<path d="M263 431h1v1h1v1h1v1h-1v1h-1v1h-1v-1h-2v-3h2z"/>
<path d="M267 436h1v1h1v1h1v1h-1v1h-1v1h-1v-1h-2v-3h2z"/>
<path d="M271 440h1v1h1v1h1v1h-1v1h-1v1h-1v-1h-2v-3h2z"/>
<path d="M275 444h1v1h1v1h1v1h-1v1h-1v1h-1v-1h-2v-3h2z"/>
<path d="M279 449h1v1h1v1h1v1h-1v1h-1v1h-1v-1h-2v-3h2z"/>
<path d="M283 455h1v1h1v1h1v1h-1v1h-1v1h-1v-1h-2v-3h2z"/>
<path d="M287 460h1v1h1v1h1v1h-1v1h-1v1h-1v-1h-2v-3h2z"/>
<path d="M291 466h1v1h1v1h1v1h-1v1h-1v1h-1v-1h-2v-3h2z"/>
<path d="M295 470h1v1h1v1h1v1h-1v1h-1v1h-1v-1h-2v-3h2z"/>
<path d="M299 475h1v1h1v1h1v1h-1v1h-1v1h-1v-1h-2v-3h2z"/>
<path d="M303 479h1v1h1v1h1v1h-1v1h-1v1h-1v-1h-2v-3h2z"/>
<path d="M307 483h1v1h1v1h1v1h-1v1h-1v1h-1v-1h-2v-3h2z"/>
<path d="M311 487h1v1h1v1h1v1h-1v1h-1v1h-1v-1h-2v-3h2z"/>
<path d="M315 490h1v1h1v1h1v1h-1v1h-1v1h-1v-1h-2v-3h2z"/>
<path d="M319 493h1v1h1v1h1v1h-1v1h-1v1h-1v-1h-2v-3h2z"/>
<path d="M323 499h1v1h1v1h1v1h-1v1h-1v1h-1v-1h-2v-3h2z"/>
<path d="M327 505h1v1h1v1h1v1h-1v1h-1v1h-1v-1h-2v-3h2z"/>
<path d="M331 512h1v1h1v1h1v1h-1v1h-1v1h-1v-1h-2v-3h2z"/>
<path d="M335 518h1v1h1v1h1v1h-1v1h-1v1h-1v-1h-2v-3h2z"/>
<path d="M339 522h1v1h1v1h1v1h-1v1h-1v1h-1v-1h-2v-3h2z"/>
<path d="M343 526h1v1h1v1h1v1h-1v1h-1v1h-1v-1h-2v-3h2z"/>
<path d="M347 530h1v1h1v1h1v1h-1v1h-1v1h-1v-1h-2v-3h2z"/>
<path d="M351 612h1v1h1v1h1v1h-1v1h-1v1h-1v-1h-2v-3h2z"/>
<path d="M355 612h1v1h1v1h1v1h-1v1h-1v1h-1v-1h-2v-3h2z"/>
<path d="M359 612h1v1h1v1h1v1h-1v1h-1v1h-1v-1h-2v-3h2z"/>
<path d="M363 611h1v1h1v1h1v1h-1v1h-1v1h-1v-1h-2v-3h2z"/>
<path d="M367 610h1v1h1v1h1v1h-1v1h-1v1h-1v-1h-2v-3h2z"/>
<path d="M371 609h1v1h1v1h1v1h-1v1h-1v1h-1v-1h-2v-3h2z"/>
<path d="M375 608h1v1h1v1h1v1h-1v1h-1v1h-1v-1h-2v-3h2z"/>
<path d="M379 607h1v1h1v1h1v1h-1v1h-1v1h-1v-1h-2v-3h2z"/>
<path d="M383 606h1v1h1v1h1v1h-1v1h-1v1h-1v-1h-2v-3h2z"/>
<path d="M387 606h1v1h1v1h1v1h-1v1h-1v1h-1v-1h-2v-3h2z"/>
<path d="M391 604h1v1h1v1h1v1h-1v1h-1v1h-1v-1h-2v-3h2z"/>
<path d="M395 604h1v1h1v1h1v1h-1v1h-1v1h-1v-1h-2v-3h2z"/>
<path d="M399 603h1v1h1v1h1v1h-1v1h-1v1h-1v-1h-2v-3h2z"/>
<path d="M403 602h1v1h1v1h1v1h-1v1h-1v1h-1v-1h-2v-3h2z"/>
<path d="M407 600h1v1h1v1h1v1h-1v1h-1v1h-1v-1h-2v-3h2z"/>
<path d="M411 599h1v1h1v1h1v1h-1v1h-1v1h-1v-1h-2v-3h2z"/>
<path d="M415 597h1v1h1v1h1v1h-1v1h-1v1h-1v-1h-2v-3h2z"/>
<path d="M419 595h1v1h1v1h1v1h-1v1h-1v1h-1v-1h-2v-3h2z"/>
<path d="M423 592h1v1h1v1h1v1h-1v1h-1v1h-1v-1h-2v-3h2z"/>
<path d="M427 590h1v1h1v1h1v1h-1v1h-1v1h-1v-1h-2v-3h2z"/>
<path d="M431 586h1v1h1v1h1v1h-1v1h-1v1h-1v-1h-2v-3h2z"/>
<path d="M435 583h1v1h1v1h1v1h-1v1h-1v1h-1v-1h-2v-3h2z"/>
<path d="M439 580h1v1h1v1h1v1h-1v1h-1v1h-1v-1h-2v-3h2z"/>
<path d="M443 577h1v1h1v1h1v1h-1v1h-1v1h-1v-1h-2v-3h2z"/>
<path d="M447 574h1v1h1v1h1v1h-1v1h-1v1h-1v-1h-2v-3h2z"/>
<path d="M451 570h1v1h1v1h1v1h-1v1h-1v1h-1v-1h-2v-3h2z"/>
<path d="M455 568h1v1h1v1h1v1h-1v1h-1v1h-1v-1h-2v-3h2z"/>
<path d="M459 565h1v1h1v1h1v1h-1v1h-1v1h-1v-1h-2v-3h2z"/>
<path d="M463 562h1v1h1v1h1v1h-1v1h-1v1h-1v-1h-2v-3h2z"/>
<path d="M467 558h1v1h1v1h1v1h-1v1h-1v1h-1v-1h-2v-3h2z"/>
<path d="M471 552h1v1h1v1h1v1h-1v1h-1v1h-1v-1h-2v-3h2z"/>
<path d="M475 546h1v1h1v1h1v1h-1v1h-1v1h-1v-1h-2v-3h2z"/>
<path d="M479 540h1v1h1v1h1v1h-1v1h-1v1h-1v-1h-2v-3h2z"/>
<path d="M483 534h1v1h1v1h1v1h-1v1h-1v1h-1v-1h-2v-3h2z"/>
<path d="M487 529h1v1h1v1h1v1h-1v1h-1v1h-1v-1h-2v-3h2z"/>
<path d="M491 522h1v1h1v1h1v1h-1v1h-1v1h-1v-1h-2v-3h2z"/>
<path d="M495 518h1v1h1v1h1v1h-1v1h-1v1h-1v-1h-2v-3h2z"/>
<path d="M499 514h1v1h1v1h1v1h-1v1h-1v1h-1v-1h-2v-3h2z"/>
<path d="M503 510h1v1h1v1h1v1h-1v1h-1v1h-1v-1h-2v-3h2z"/>
<path d="M507 506h1v1h1v1h1v1h-1v1h-1v1h-1v-1h-2v-3h2z"/>
<path d="M511 446h1v1h1v1h1v1h-1v1h-1v1h-1v-1h-2v-3h2z"/>
<path d="M519 520h1v1h1v1h1v1h-1v1h-1v1h-1v-1h-2v-3h2z"/>
<path d="M523 519h1v1h1v1h1v1h-1v1h-1v1h-1v-1h-2v-3h2z"/>
<path d="M527 518h1v1h1v1h1v1h-1v1h-1v1h-1v-1h-2v-3h2z"/>
<path d="M531 516h1v1h1v1h1v1h-1v1h-1v1h-1v-1h-2v-3h2z"/>
<path d="M535 515h1v1h1v1h1v1h-1v1h-1v1h-1v-1h-2v-3h2z"/>
<path d="M539 514h1v1h1v1h1v1h-1v1h-1v1h-1v-1h-2v-3h2z"/>
<path d="M543 512h1v1h1v1h1v1h-1v1h-1v1h-1v-1h-2v-3h2z"/>
<path d="M547 510h1v1h1v1h1v1h-1v1h-1v1h-1v-1h-2v-3h2z"/>
<path d="M551 507h1v1h1v1h1v1h-1v1h-1v1h-1v-1h-2v-3h2z"/>
<path d="M555 504h1v1h1v1h1v1h-1v1h-1v1h-1v-1h-2v-3h2z"/>
<path d="M559 500h1v1h1v1h1v1h-1v1h-1v1h-1v-1h-2v-3h2z"/>
<path d="M563 498h1v1h1v1h1v1h-1v1h-1v1h-1v-1h-2v-3h2z"/>
<path d="M567 494h1v1h1v1h1v1h-1v1h-1v1h-1v-1h-2v-3h2z"/>
<path d="M571 490h1v1h1v1h1v1h-1v1h-1v1h-1v-1h-2v-3h2z"/>
<path d="M575 486h1v1h1v1h1v1h-1v1h-1v1h-1v-1h-2v-3h2z"/>
<path d="M579 481h1v1h1v1h1v1h-1v1h-1v1h-1v-1h-2v-3h2z"/>
<path d="M583 476h1v1h1v1h1v1h-1v1h-1v1h-1v-1h-2v-3h2z"/>
<path d="M587 468h1v1h1v1h1v1h-1v1h-1v1h-1v-1h-2v-3h2z"/>
<path d="M591 460h1v1h1v1h1v1h-1v1h-1v1h-1v-1h-2v-3h2z"/>
<path d="M595 451h1v1h1v1h1v1h-1v1h-1v1h-1v-1h-2v-3h2z"/>
<path d="M599 444h1v1h1v1h1v1h-1v1h-1v1h-1v-1h-2v-3h2z"/>
<path d="M603 435h1v1h1v1h1v1h-1v1h-1v1h-1v-1h-2v-3h2z"/>
<path d="M607 426h1v1h1v1h1v1h-1v1h-1v1h-1v-1h-2v-3h2z"/>
<path d="M611 416h1v1h1v1h1v1h-1v1h-1v1h-1v-1h-2v-3h2z"/>
<path d="M615 409h1v1h1v1h1v1h-1v1h-1v1h-1v-1h-2v-3h2z"/>
<path d="M619 401h1v1h1v1h1v1h-1v1h-1v1h-1v-1h-2v-3h2z"/>
<path d="M623 393h1v1h1v1h1v1h-1v1h-1v1h-1v-1h-2v-3h2z"/>
<path d="M627 387h1v1h1v1h1v1h-1v1h-1v1h-1v-1h-2v-3h2z"/>
<path d="M631 380h1v1h1v1h1v1h-1v1h-1v1h-1v-1h-2v-3h2z"/>
<path d="M635 375h1v1h1v1h1v1h-1v1h-1v1h-1v-1h-2v-3h2z"/>
<path d="M639 369h1v1h1v1h1v1h-1v1h-1v1h-1v-1h-2v-3h2z"/>
<path d="M643 361h1v1h1v1h1v1h-1v1h-1v1h-1v-1h-2v-3h2z"/>
<path d="M647 352h1v1h1v1h1v1h-1v1h-1v1h-1v-1h-2v-3h2z"/>
<path d="M651 337h1v1h1v1h1v1h-1v1h-1v1h-1v-1h-2v-3h2z"/>
<path d="M655 323h1v1h1v1h1v1h-1v1h-1v1h-1v-1h-2v-3h2z"/>
<path d="M659 311h1v1h1v1h1v1h-1v1h-1v1h-1v-1h-2v-3h2z"/>
<path d="M663 299h1v1h1v1h1v1h-1v1h-1v1h-1v-1h-2v-3h2z"/>
<path d="M667 290h1v1h1v1h1v1h-1v1h-1v1h-1v-1h-2v-3h2z"/>
<path d="M671 239h1v1h1v1h1v1h-1v1h-1v1h-1v-1h-2v-3h2z"/>
<path d="M675 240h1v1h1v1h1v1h-1v1h-1v1h-1v-1h-2v-3h2z"/>
<path d="M679 240h1v1h1v1h1v1h-1v1h-1v1h-1v-1h-2v-3h2z"/>
<path d="M683 242h1v1h1v1h1v1h-1v1h-1v1h-1v-1h-2v-3h2z"/>
<path d="M687 243h1v1h1v1h1v1h-1v1h-1v1h-1v-1h-2v-3h2z"/>
<path d="M691 245h1v1h1v1h1v1h-1v1h-1v1h-1v-1h-2v-3h2z"/>
<path d="M695 246h1v1h1v1h1v1h-1v1h-1v1h-1v-1h-2v-3h2z"/>
<path d="M699 248h1v1h1v1h1v1h-1v1h-1v1h-1v-1h-2v-3h2z"/>
<path d="M703 292h1v1h1v1h1v1h-1v1h-1v1h-1v-1h-2v-3h2z"/>
<path d="M707 292h1v1h1v1h1v1h-1v1h-1v1h-1v-1h-2v-3h2z"/>
<path d="M711 290h1v1h1v1h1v1h-1v1h-1v1h-1v-1h-2v-3h2z"/>
<path d="M715 290h1v1h1v1h1v1h-1v1h-1v1h-1v-1h-2v-3h2z"/>
<path d="M719 284h1v1h1v1h1v1h-1v1h-1v1h-1v-1h-2v-3h2z"/>
<path d="M723 278h1v1h1v1h1v1h-1v1h-1v1h-1v-1h-2v-3h2z"/>
<path d="M727 273h1v1h1v1h1v1h-1v1h-1v1h-1v-1h-2v-3h2z"/>
<path d="M731 268h1v1h1v1h1v1h-1v1h-1v1h-1v-1h-2v-3h2z"/>
<path d="M735 262h1v1h1v1h1v1h-1v1h-1v1h-1v-1h-2v-3h2z"/>
<path d="M739 258h1v1h1v1h1v1h-1v1h-1v1h-1v-1h-2v-3h2z"/>
<path d="M743 253h1v1h1v1h1v1h-1v1h-1v1h-1v-1h-2v-3h2z"/>
<path d="M747 249h1v1h1v1h1v1h-1v1h-1v1h-1v-1h-2v-3h2z"/>
<path d="M751 244h1v1h1v1h1v1h-1v1h-1v1h-1v-1h-2v-3h2z"/>
<path d="M755 240h1v1h1v1h1v1h-1v1h-1v1h-1v-1h-2v-3h2z"/>
<path d="M759 236h1v1h1v1h1v1h-1v1h-1v1h-1v-1h-2v-3h2z"/>
<path d="M763 231h1v1h1v1h1v1h-1v1h-1v1h-1v-1h-2v-3h2z"/>
<path d="M767 227h1v1h1v1h1v1h-1v1h-1v1h-1v-1h-2v-3h2z"/>
<path d="M771 223h1v1h1v1h1v1h-1v1h-1v1h-1v-1h-2v-3h2z"/>
<path d="M775 219h1v1h1v1h1v1h-1v1h-1v1h-1v-1h-2v-3h2z"/>
<path d="M779 216h1v1h1v1h1v1h-1v1h-1v1h-1v-1h-2v-3h2z"/>
<path d="M783 212h1v1h1v1h1v1h-1v1h-1v1h-1v-1h-2v-3h2z"/>
<path d="M787 208h1v1h1v1h1v1h-1v1h-1v1h-1v-1h-2v-3h2z"/>
<path d="M791 206h1v1h1v1h1v1h-1v1h-1v1h-1v-1h-2v-3h2z"/>
<path d="M795 203h1v1h1v1h1v1h-1v1h-1v1h-1v-1h-2v-3h2z"/>
<path d="M799 98h1v1h1v1h1v1h-1v1h-1v1h-1v-1h-2v-3h2z"/>
<path d="M803 100h1v1h1v1h1v1h-1v1h-1v1h-1v-1h-2v-3h2z"/>
<path d="M807 103h1v1h1v1h1v1h-1v1h-1v1h-1v-1h-2v-3h2z"/>
<path d="M811 106h1v1h1v1h1v1h-1v1h-1v1h-1v-1h-2v-3h2z"/>
<path d="M815 110h1v1h1v1h1v1h-1v1h-1v1h-1v-1h-2v-3h2z"/>
<path d="M819 112h1v1h1v1h1v1h-1v1h-1v1h-1v-1h-2v-3h2z"/>
<path d="M823 115h1v1h1v1h1v1h-1v1h-1v1h-1v-1h-2v-3h2z"/>
<path d="M827 118h1v1h1v1h1v1h-1v1h-1v1h-1v-1h-2v-3h2z"/>
<path d="M831 120h1v1h1v1h1v1h-1v1h-1v1h-1v-1h-2v-3h2z"/>
<path d="M835 123h1v1h1v1h1v1h-1v1h-1v1h-1v-1h-2v-3h2z"/>
<path d="M839 126h1v1h1v1h1v1h-1v1h-1v1h-1v-1h-2v-3h2z"/>
<path d="M843 128h1v1h1v1h1v1h-1v1h-1v1h-1v-1h-2v-3h2z"/>
<path d="M847 130h1v1h1v1h1v1h-1v1h-1v1h-1v-1h-2v-3h2z"/>
<path d="M851 132h1v1h1v1h1v1h-1v1h-1v1h-1v-1h-2v-3h2z"/>
<path d="M855 134h1v1h1v1h1v1h-1v1h-1v1h-1v-1h-2v-3h2z"/>
<path d="M859 136h1v1h1v1h1v1h-1v1h-1v1h-1v-1h-2v-3h2z"/>
<path d="M863 138h1v1h1v1h1v1h-1v1h-1v1h-1v-1h-2v-3h2z"/>
<path d="M867 140h1v1h1v1h1v1h-1v1h-1v1h-1v-1h-2v-3h2z"/>
<path d="M871 244h1v1h1v1h1v1h-1v1h-1v1h-1v-1h-2v-3h2z"/>
<path d="M875 243h1v1h1v1h1v1h-1v1h-1v1h-1v-1h-2v-3h2z"/>
<path d="M879 240h1v1h1v1h1v1h-1v1h-1v1h-1v-1h-2v-3h2z"/>
<path d="M883 239h1v1h1v1h1v1h-1v1h-1v1h-1v-1h-2v-3h2z"/>
<path d="M887 235h1v1h1v1h1v1h-1v1h-1v1h-1v-1h-2v-3h2z"/>
<path d="M891 230h1v1h1v1h1v1h-1v1h-1v1h-1v-1h-2v-3h2z"/>
<path d="M895 224h1v1h1v1h1v1h-1v1h-1v1h-1v-1h-2v-3h2z"/>
<path d="M899 218h1v1h1v1h1v1h-1v1h-1v1h-1v-1h-2v-3h2z"/>
<path d="M903 212h1v1h1v1h1v1h-1v1h-1v1h-1v-1h-2v-3h2z"/>
<path d="M907 205h1v1h1v1h1v1h-1v1h-1v1h-1v-1h-2v-3h2z"/>
<path d="M911 199h1v1h1v1h1v1h-1v1h-1v1h-1v-1h-2v-3h2z"/>
<path d="M915 191h1v1h1v1h1v1h-1v1h-1v1h-1v-1h-2v-3h2z"/>
<path d="M919 184h1v1h1v1h1v1h-1v1h-1v1h-1v-1h-2v-3h2z"/>
<path d="M923 173h1v1h1v1h1v1h-1v1h-1v1h-1v-1h-2v-3h2z"/>
<path d="M927 164h1v1h1v1h1v1h-1v1h-1v1h-1v-1h-2v-3h2z"/>
<path d="M931 154h1v1h1v1h1v1h-1v1h-1v1h-1v-1h-2v-3h2z"/>
<path d="M935 145h1v1h1v1h1v1h-1v1h-1v1h-1v-1h-2v-3h2z"/>
<path d="M939 136h1v1h1v1h1v1h-1v1h-1v1h-1v-1h-2v-3h2z"/>
<path d="M943 129h1v1h1v1h1v1h-1v1h-1v1h-1v-1h-2v-3h2z"/>
<path d="M947 122h1v1h1v1h1v1h-1v1h-1v1h-1v-1h-2v-3h2z"/>
<path d="M951 116h1v1h1v1h1v1h-1v1h-1v1h-1v-1h-2v-3h2z"/>
<path d="M955 110h1v1h1v1h1v1h-1v1h-1v1h-1v-1h-2v-3h2z"/>
<path d="M959 105h1v1h1v1h1v1h-1v1h-1v1h-1v-1h-2v-3h2z"/>
<path d="M963 100h1v1h1v1h1v1h-1v1h-1v1h-1v-1h-2v-3h2z"/>
<path d="M967 95h1v1h1v1h1v1h-1v1h-1v1h-1v-1h-2v-3h2z"/>
<path d="M971 90h1v1h1v1h1v1h-1v1h-1v1h-1v-1h-2v-3h2z"/>
<path d="M975 31h1v1h1v1h1v1h-1v1h-1v1h-1v-1h-2v-3h2z"/>
<path d="M979 32h1v1h1v1h1v1h-1v1h-1v1h-1v-1h-2v-3h2z"/>
</g>
<g clip-path="url(#c)" stroke-linejoin="miter">
<path d="M15.5 486.7L25.5 502.7L15.5 497.2Z" fill="none" stroke="#000" stroke-width="0.6"/>
<path d="M15.5 486.7L5.5 502.7L15.5 497.2Z" fill="#000" stroke="#000" stroke-width="0.5"/>
<path d="M31.5 497.8L41.5 513.8L31.5 508.3Z" fill="none" stroke="#000" stroke-width="0.6"/>
<path d="M31.5 497.8L21.5 513.8L31.5 508.3Z" fill="#000" stroke="#000" stroke-width="0.5"/>
<path d="M87.5 531L97.5 547L87.5 541.5Z" fill="none" stroke="#000" stroke-width="0.6"/>
<path d="M87.5 531L77.5 547L87.5 541.5Z" fill="#000" stroke="#000" stroke-width="0.5"/>
<path d="M111.5 507L121.5 523L111.5 517.5Z" fill="none" stroke="#000" stroke-width="0.6"/>
<path d="M111.5 507L101.5 523L111.5 517.5Z" fill="#000" stroke="#000" stroke-width="0.5"/>
<path d="M139.5 433L149.5 449L139.5 443.5Z" fill="none" stroke="#000" stroke-width="0.6"/>
<path d="M139.5 433L129.5 449L139.5 443.5Z" fill="#000" stroke="#000" stroke-width="0.5"/>
<path d="M155.5 430L165.5 446L155.5 440.5Z" fill="none" stroke="#000" stroke-width="0.6"/>
<path d="M155.5 430L145.5 446L155.5 440.5Z" fill="#000" stroke="#000" stroke-width="0.5"/>
<path d="M179.5 418L189.5 434L179.5 428.5Z" fill="none" stroke="#000" stroke-width="0.6"/>
<path d="M179.5 418L169.5 434L179.5 428.5Z" fill="#000" stroke="#000" stroke-width="0.5"/>
<path d="M207.5 403L217.5 419L207.5 413.5Z" fill="none" stroke="#000" stroke-width="0.6"/>
<path d="M207.5 403L197.5 419L207.5 413.5Z" fill="#000" stroke="#000" stroke-width="0.5"/>
<path d="M235.5 387L245.5 403L235.5 397.5Z" fill="none" stroke="#000" stroke-width="0.6"/>
<path d="M235.5 387L225.5 403L235.5 397.5Z" fill="#000" stroke="#000" stroke-width="0.5"/>
<path d="M271.5 443.75L281.5 459.75L271.5 454.25Z" fill="none" stroke="#000" stroke-width="0.6"/>
<path d="M271.5 443.75L261.5 459.75L271.5 454.25Z" fill="#000" stroke="#000" stroke-width="0.5"/>
<path d="M299.5 461L309.5 477L299.5 471.5Z" fill="none" stroke="#000" stroke-width="0.6"/>
<path d="M299.5 461L289.5 477L299.5 471.5Z" fill="#000" stroke="#000" stroke-width="0.5"/>
<path d="M351.5 502.5L361.5 518.5L351.5 513.0Z" fill="none" stroke="#000" stroke-width="0.6"/>
<path d="M351.5 502.5L341.5 518.5L351.5 513.0Z" fill="#000" stroke="#000" stroke-width="0.5"/>
<path d="M363.5 505L373.5 521L363.5 515.5Z" fill="none" stroke="#000" stroke-width="0.6"/>
<path d="M363.5 505L353.5 521L363.5 515.5Z" fill="#000" stroke="#000" stroke-width="0.5"/>
<path d="M391.5 520L401.5 536L391.5 530.5Z" fill="none" stroke="#000" stroke-width="0.6"/>
<path d="M391.5 520L381.5 536L391.5 530.5Z" fill="#000" stroke="#000" stroke-width="0.5"/>
<path d="M415.5 475L425.5 491L415.5 485.5Z" fill="none" stroke="#000" stroke-width="0.6"/>
<path d="M415.5 475L405.5 491L415.5 485.5Z" fill="#000" stroke="#000" stroke-width="0.5"/>
<path d="M439.5 467.5L449.5 483.5L439.5 478.0Z" fill="none" stroke="#000" stroke-width="0.6"/>
<path d="M439.5 467.5L429.5 483.5L439.5 478.0Z" fill="#000" stroke="#000" stroke-width="0.5"/>
<path d="M471.5 436.25L481.5 452.25L471.5 446.75Z" fill="none" stroke="#000" stroke-width="0.6"/>
<path d="M471.5 436.25L461.5 452.25L471.5 446.75Z" fill="#000" stroke="#000" stroke-width="0.5"/>
<path d="M491.5 423.75L501.5 439.75L491.5 434.25Z" fill="none" stroke="#000" stroke-width="0.6"/>
<path d="M491.5 423.75L481.5 439.75L491.5 434.25Z" fill="#000" stroke="#000" stroke-width="0.5"/>
<path d="M515.5 413L525.5 429L515.5 423.5Z" fill="none" stroke="#000" stroke-width="0.6"/>
<path d="M515.5 413L505.5 429L515.5 423.5Z" fill="#000" stroke="#000" stroke-width="0.5"/>
<path d="M543.5 377.5L553.5 393.5L543.5 388.0Z" fill="none" stroke="#000" stroke-width="0.6"/>
<path d="M543.5 377.5L533.5 393.5L543.5 388.0Z" fill="#000" stroke="#000" stroke-width="0.5"/>
<path d="M571.5 369.5L581.5 385.5L571.5 380.0Z" fill="none" stroke="#000" stroke-width="0.6"/>
<path d="M571.5 369.5L561.5 385.5L571.5 380.0Z" fill="#000" stroke="#000" stroke-width="0.5"/>
<path d="M583.5 312L593.5 328L583.5 322.5Z" fill="none" stroke="#000" stroke-width="0.6"/>
<path d="M583.5 312L573.5 328L583.5 322.5Z" fill="#000" stroke="#000" stroke-width="0.5"/>
<path d="M603.5 308L613.5 324L603.5 318.5Z" fill="none" stroke="#000" stroke-width="0.6"/>
<path d="M603.5 308L593.5 324L603.5 318.5Z" fill="#000" stroke="#000" stroke-width="0.5"/>
<path d="M615.5 301.5L625.5 317.5L615.5 312.0Z" fill="none" stroke="#000" stroke-width="0.6"/>
<path d="M615.5 301.5L605.5 317.5L615.5 312.0Z" fill="#000" stroke="#000" stroke-width="0.5"/>
<path d="M659.5 216.25L669.5 232.25L659.5 226.75Z" fill="none" stroke="#000" stroke-width="0.6"/>
<path d="M659.5 216.25L649.5 232.25L659.5 226.75Z" fill="#000" stroke="#000" stroke-width="0.5"/>
<path d="M679.5 234.5L689.5 250.5L679.5 245.0Z" fill="none" stroke="#000" stroke-width="0.6"/>
<path d="M679.5 234.5L669.5 250.5L679.5 245.0Z" fill="#000" stroke="#000" stroke-width="0.5"/>
<path d="M715.5 76.25L725.5 92.25L715.5 86.75Z" fill="none" stroke="#000" stroke-width="0.6"/>
<path d="M715.5 76.25L705.5 92.25L715.5 86.75Z" fill="#000" stroke="#000" stroke-width="0.5"/>
<path d="M751.5 143.75L761.5 159.75L751.5 154.25Z" fill="none" stroke="#000" stroke-width="0.6"/>
<path d="M751.5 143.75L741.5 159.75L751.5 154.25Z" fill="#000" stroke="#000" stroke-width="0.5"/>
<path d="M779.5 138.75L789.5 154.75L779.5 149.25Z" fill="none" stroke="#000" stroke-width="0.6"/>
<path d="M779.5 138.75L769.5 154.75L779.5 149.25Z" fill="#000" stroke="#000" stroke-width="0.5"/>
<path d="M811.5 176.25L821.5 192.25L811.5 186.75Z" fill="none" stroke="#000" stroke-width="0.6"/>
<path d="M811.5 176.25L801.5 192.25L811.5 186.75Z" fill="#000" stroke="#000" stroke-width="0.5"/>
<path d="M835.5 129.5L845.5 145.5L835.5 140.0Z" fill="none" stroke="#000" stroke-width="0.6"/>
<path d="M835.5 129.5L825.5 145.5L835.5 140.0Z" fill="#000" stroke="#000" stroke-width="0.5"/>
<path d="M847.5 123L857.5 139L847.5 133.5Z" fill="none" stroke="#000" stroke-width="0.6"/>
<path d="M847.5 123L837.5 139L847.5 133.5Z" fill="#000" stroke="#000" stroke-width="0.5"/>
<path d="M887.5 63.75L897.5 79.75L887.5 74.25Z" fill="none" stroke="#000" stroke-width="0.6"/>
<path d="M887.5 63.75L877.5 79.75L887.5 74.25Z" fill="#000" stroke="#000" stroke-width="0.5"/>
<path d="M903.5 48L913.5 64L903.5 58.5Z" fill="none" stroke="#000" stroke-width="0.6"/>
<path d="M903.5 48L893.5 64L903.5 58.5Z" fill="#000" stroke="#000" stroke-width="0.5"/>
<path d="M919.5 8L929.5 24L919.5 18.5Z" fill="none" stroke="#000" stroke-width="0.6"/>
<path d="M919.5 8L909.5 24L919.5 18.5Z" fill="#000" stroke="#000" stroke-width="0.5"/>
<path d="M951.5 15L961.5 31L951.5 25.5Z" fill="none" stroke="#000" stroke-width="0.6"/>
<path d="M951.5 15L941.5 31L951.5 25.5Z" fill="#000" stroke="#000" stroke-width="0.5"/>
<path d="M963.5 22L973.5 38L963.5 32.5Z" fill="none" stroke="#000" stroke-width="0.6"/>
<path d="M963.5 22L953.5 38L963.5 32.5Z" fill="#000" stroke="#000" stroke-width="0.5"/>
<path d="M3.5 597.5L-6.5 582.5L3.5 587.9Z" fill="none" stroke="#000" stroke-width="0.6"/>
<path d="M3.5 597.5L13.5 582.5L3.5 587.9Z" fill="#000" stroke="#000" stroke-width="0.5"/>
<path d="M55.5 612L45.5 597L55.5 602.4Z" fill="none" stroke="#000" stroke-width="0.6"/>
<path d="M55.5 612L65.5 597L55.5 602.4Z" fill="#000" stroke="#000" stroke-width="0.5"/>
<path d="M87.5 640L77.5 625L87.5 630.4Z" fill="none" stroke="#000" stroke-width="0.6"/>
<path d="M87.5 640L97.5 625L87.5 630.4Z" fill="#000" stroke="#000" stroke-width="0.5"/>
<path d="M103.5 640L93.5 625L103.5 630.4Z" fill="none" stroke="#000" stroke-width="0.6"/>
<path d="M103.5 640L113.5 625L103.5 630.4Z" fill="#000" stroke="#000" stroke-width="0.5"/>
<path d="M159.5 512L149.5 497L159.5 502.4Z" fill="none" stroke="#000" stroke-width="0.6"/>
<path d="M159.5 512L169.5 497L159.5 502.4Z" fill="#000" stroke="#000" stroke-width="0.5"/>
<path d="M175.5 510.5L165.5 495.5L175.5 500.9Z" fill="none" stroke="#000" stroke-width="0.6"/>
<path d="M175.5 510.5L185.5 495.5L175.5 500.9Z" fill="#000" stroke="#000" stroke-width="0.5"/>
<path d="M199.5 496L189.5 481L199.5 486.4Z" fill="none" stroke="#000" stroke-width="0.6"/>
<path d="M199.5 496L209.5 481L199.5 486.4Z" fill="#000" stroke="#000" stroke-width="0.5"/>
<path d="M215.5 481.5L205.5 466.5L215.5 471.9Z" fill="none" stroke="#000" stroke-width="0.6"/>
<path d="M215.5 481.5L225.5 466.5L215.5 471.9Z" fill="#000" stroke="#000" stroke-width="0.5"/>
<path d="M251.5 542.5L241.5 527.5L251.5 532.9Z" fill="none" stroke="#000" stroke-width="0.6"/>
<path d="M251.5 542.5L261.5 527.5L251.5 532.9Z" fill="#000" stroke="#000" stroke-width="0.5"/>
<path d="M279.5 559.5L269.5 544.5L279.5 549.9Z" fill="none" stroke="#000" stroke-width="0.6"/>
<path d="M279.5 559.5L289.5 544.5L279.5 549.9Z" fill="#000" stroke="#000" stroke-width="0.5"/>
<path d="M299.5 547.5L289.5 532.5L299.5 537.9Z" fill="none" stroke="#000" stroke-width="0.6"/>
<path d="M299.5 547.5L309.5 532.5L299.5 537.9Z" fill="#000" stroke="#000" stroke-width="0.5"/>
<path d="M323.5 598.75L313.5 583.75L323.5 589.15Z" fill="none" stroke="#000" stroke-width="0.6"/>
<path d="M323.5 598.75L333.5 583.75L323.5 589.15Z" fill="#000" stroke="#000" stroke-width="0.5"/>
<path d="M347.5 633.75L337.5 618.75L347.5 624.15Z" fill="none" stroke="#000" stroke-width="0.6"/>
<path d="M347.5 633.75L357.5 618.75L347.5 624.15Z" fill="#000" stroke="#000" stroke-width="0.5"/>
<path d="M371.5 597.5L361.5 582.5L371.5 587.9Z" fill="none" stroke="#000" stroke-width="0.6"/>
<path d="M371.5 597.5L381.5 582.5L371.5 587.9Z" fill="#000" stroke="#000" stroke-width="0.5"/>
<path d="M399.5 612L389.5 597L399.5 602.4Z" fill="none" stroke="#000" stroke-width="0.6"/>
<path d="M399.5 612L409.5 597L399.5 602.4Z" fill="#000" stroke="#000" stroke-width="0.5"/>
<path d="M423.5 565L413.5 550L423.5 555.4Z" fill="none" stroke="#000" stroke-width="0.6"/>
<path d="M423.5 565L433.5 550L423.5 555.4Z" fill="#000" stroke="#000" stroke-width="0.5"/>
<path d="M447.5 570.5L437.5 555.5L447.5 560.9Z" fill="none" stroke="#000" stroke-width="0.6"/>
<path d="M447.5 570.5L457.5 555.5L447.5 560.9Z" fill="#000" stroke="#000" stroke-width="0.5"/>
<path d="M495.5 535.5L485.5 520.5L495.5 525.9Z" fill="none" stroke="#000" stroke-width="0.6"/>
<path d="M495.5 535.5L505.5 520.5L495.5 525.9Z" fill="#000" stroke="#000" stroke-width="0.5"/>
<path d="M515.5 543.75L505.5 528.75L515.5 534.15Z" fill="none" stroke="#000" stroke-width="0.6"/>
<path d="M515.5 543.75L525.5 528.75L515.5 534.15Z" fill="#000" stroke="#000" stroke-width="0.5"/>
<path d="M563.5 458L553.5 443L563.5 448.4Z" fill="none" stroke="#000" stroke-width="0.6"/>
<path d="M563.5 458L573.5 443L563.5 448.4Z" fill="#000" stroke="#000" stroke-width="0.5"/>
<path d="M583.5 435L573.5 420L583.5 425.4Z" fill="none" stroke="#000" stroke-width="0.6"/>
<path d="M583.5 435L593.5 420L583.5 425.4Z" fill="#000" stroke="#000" stroke-width="0.5"/>
<path d="M611.5 393.75L601.5 378.75L611.5 384.15Z" fill="none" stroke="#000" stroke-width="0.6"/>
<path d="M611.5 393.75L621.5 378.75L611.5 384.15Z" fill="#000" stroke="#000" stroke-width="0.5"/>
<path d="M631.5 393L621.5 378L631.5 383.4Z" fill="none" stroke="#000" stroke-width="0.6"/>
<path d="M631.5 393L641.5 378L631.5 383.4Z" fill="#000" stroke="#000" stroke-width="0.5"/>
<path d="M683.5 317.5L673.5 302.5L683.5 307.9Z" fill="none" stroke="#000" stroke-width="0.6"/>
<path d="M683.5 317.5L693.5 302.5L683.5 307.9Z" fill="#000" stroke="#000" stroke-width="0.5"/>
<path d="M699.5 312.5L689.5 297.5L699.5 302.9Z" fill="none" stroke="#000" stroke-width="0.6"/>
<path d="M699.5 312.5L709.5 297.5L699.5 302.9Z" fill="#000" stroke="#000" stroke-width="0.5"/>
<path d="M735.5 221.25L725.5 206.25L735.5 211.65Z" fill="none" stroke="#000" stroke-width="0.6"/>
<path d="M735.5 221.25L745.5 206.25L735.5 211.65Z" fill="#000" stroke="#000" stroke-width="0.5"/>
<path d="M759.5 246.25L749.5 231.25L759.5 236.65Z" fill="none" stroke="#000" stroke-width="0.6"/>
<path d="M759.5 246.25L769.5 231.25L759.5 236.65Z" fill="#000" stroke="#000" stroke-width="0.5"/>
<path d="M803.5 268L793.5 253L803.5 258.4Z" fill="none" stroke="#000" stroke-width="0.6"/>
<path d="M803.5 268L813.5 253L803.5 258.4Z" fill="#000" stroke="#000" stroke-width="0.5"/>
<path d="M819.5 251.25L809.5 236.25L819.5 241.65Z" fill="none" stroke="#000" stroke-width="0.6"/>
<path d="M819.5 251.25L829.5 236.25L819.5 241.65Z" fill="#000" stroke="#000" stroke-width="0.5"/>
<path d="M855.5 237.5L845.5 222.5L855.5 227.9Z" fill="none" stroke="#000" stroke-width="0.6"/>
<path d="M855.5 237.5L865.5 222.5L855.5 227.9Z" fill="#000" stroke="#000" stroke-width="0.5"/>
<path d="M899.5 147.5L889.5 132.5L899.5 137.9Z" fill="none" stroke="#000" stroke-width="0.6"/>
<path d="M899.5 147.5L909.5 132.5L899.5 137.9Z" fill="#000" stroke="#000" stroke-width="0.5"/>
<path d="M939.5 123.75L929.5 108.75L939.5 114.15Z" fill="none" stroke="#000" stroke-width="0.6"/>
<path d="M939.5 123.75L949.5 108.75L939.5 114.15Z" fill="#000" stroke="#000" stroke-width="0.5"/>
</g>
<polyline points="215,634 230,630 245,624.5 260,619.5 275,615 287.5,611.75 305,607.5 325,603 345,600.5 365,598 380,597.2 395,596 405,595 420,592.5 437.5,589.5 455,586 475,582.5 495,578.75 515,575 530,571 540,567.5 550,562.5 565,557 580,552 595,545.5 610,538.75 625,532.5 643.5,522.5 655,514.5 660,510.8 670,505 683.6,497.3 707.2,484.8 727.5,468.7 747.7,453.5 762.9,445 778,435.6 788.2,428.8 801.7,422.1 821.9,413 838.8,402.2 855.6,393.8 869.1,387 883.3,378.6 896.1,369.1 909.6,360.7 926.5,347.2 940,338.8 953.5,328.7 966.9,319.6 979.8,313.5" fill="none" stroke="#ff0000" stroke-width="2.8" stroke-linejoin="round" shape-rendering="crispEdges" clip-path="url(#c)"/>
<polyline points="50,634 62,629 75,624 88,621 100,618 110,614 117,610 124,606 130,601 137,594 145,584 152,576.5 160,568.5 167,562 175,555 182,548 190,540 200,532 207,527 215,522 222,516 227,512 232,508.5 237,506.5 245,506 260,505.5 272,505.5 287,506.5 300,507 310,507.5 315,508 322.5,511 335,513.5 350,520 365,524 380,528.5 392.5,533.5 403.5,537.5 412.5,537.5 430,535.5 445,533.75 460,532 470,528.75 480,524.5 490,519.5 500,517 510,514.5 520,511.5 530,507 540,502 550,493.75 565,483.75 580,472.5 592.5,459.5 605,445.5 620,434 632.5,424 643.5,411 655,395 665,382.5 680,368.75 690,360 700,351 708,343 712.5,337 716,328 720,319 730,305 740,292 745,287 750,283 757,278.5 763.5,274.5 772.5,267.5 780,260.5 790,254.5 795,250 812.5,246 825,242.5 842.5,229 855,225 872.5,217.5 883.5,208 895,196 907.5,184 920,170 925,163 935,157.5 945,149.5 955,140 965,132 972.5,128 979.5,126" fill="none" stroke="#00008b" stroke-width="2.8" stroke-linejoin="round" shape-rendering="crispEdges" clip-path="url(#c)"/>
<g shape-rendering="crispEdges">
<line class="r" x1="3" y1="102.5" x2="1233" y2="102.5"/>
<line class="r" x1="3" y1="245.5" x2="1233" y2="245.5"/>
<line class="r" x1="3" y1="423.5" x2="1233" y2="423.5"/>
<line class="r" x1="3" y1="513.5" x2="1233" y2="513.5"/>
<line class="r" x1="3" y1="611.5" x2="1233" y2="611.5"/>
<line class="r" x1="55.5" y1="3" x2="55.5" y2="634"/>
<line class="r" x1="167.5" y1="3" x2="167.5" y2="634"/>
<line class="r" x1="287.5" y1="3" x2="287.5" y2="634"/>
<line class="r" x1="403.5" y1="3" x2="403.5" y2="634"/>
<line class="r" x1="523.5" y1="3" x2="523.5" y2="634"/>
<line class="r" x1="643.5" y1="3" x2="643.5" y2="634"/>
<line class="r" x1="763.5" y1="3" x2="763.5" y2="634"/>
<line class="r" x1="883.5" y1="3" x2="883.5" y2="634"/>
<rect x="2" y="2" width="1232" height="1" fill="#000"/><rect x="2" y="2" width="1" height="633" fill="#000"/>
<rect x="1233" y="2" width="1" height="633" fill="#000"/><rect x="2" y="634" width="1232" height="1" fill="#000"/>
<rect x="1234" y="4" width="2" height="1" fill="#000"/>
<rect x="1234" y="37" width="2" height="1" fill="#000"/>
<rect x="1234" y="70" width="2" height="1" fill="#000"/>
<rect x="1234" y="103" width="2" height="1" fill="#000"/>
<rect x="1234" y="136" width="2" height="1" fill="#000"/>
<rect x="1234" y="169" width="2" height="1" fill="#000"/>
<rect x="1234" y="202" width="2" height="1" fill="#000"/>
<rect x="1234" y="235" width="2" height="1" fill="#000"/>
<rect x="1234" y="268" width="2" height="1" fill="#000"/>
<rect x="1234" y="301" width="2" height="1" fill="#000"/>
<rect x="1234" y="334" width="2" height="1" fill="#000"/>
<rect x="1234" y="367" width="2" height="1" fill="#000"/>
<rect x="1234" y="400" width="2" height="1" fill="#000"/>
<rect x="1234" y="433" width="2" height="1" fill="#000"/>
<rect x="1234" y="466" width="2" height="1" fill="#000"/>
<rect x="1234" y="499" width="2" height="1" fill="#000"/>
<rect x="1234" y="532" width="2" height="1" fill="#000"/>
<rect x="1234" y="565" width="2" height="1" fill="#000"/>
<rect x="1234" y="598" width="2" height="1" fill="#000"/>
<rect x="1234" y="631" width="2" height="1" fill="#000"/>
<rect x="3" y="635" width="1" height="3" fill="#000"/>
<rect x="67" y="635" width="1" height="3" fill="#000"/>
<rect x="131" y="635" width="1" height="3" fill="#000"/>
<rect x="195" y="635" width="1" height="3" fill="#000"/>
<rect x="259" y="635" width="1" height="3" fill="#000"/>
<rect x="323" y="635" width="1" height="3" fill="#000"/>
<rect x="387" y="635" width="1" height="3" fill="#000"/>
<rect x="451" y="635" width="1" height="3" fill="#000"/>
<rect x="515" y="635" width="1" height="3" fill="#000"/>
<rect x="579" y="635" width="1" height="3" fill="#000"/>
<rect x="643" y="635" width="1" height="3" fill="#000"/>
<rect x="707" y="635" width="1" height="3" fill="#000"/>
<rect x="771" y="635" width="1" height="3" fill="#000"/>
<rect x="835" y="635" width="1" height="3" fill="#000"/>
<rect x="899" y="635" width="1" height="3" fill="#000"/>
<rect x="963" y="635" width="1" height="3" fill="#000"/>
</g>
<text transform="translate(1239 6.6) scale(0.939 1)" xml:space="preserve">1.63010</text>
<text transform="translate(1239 39.6) scale(0.939 1)" xml:space="preserve">1.62540</text>
<text transform="translate(1239 72.6) scale(0.939 1)" xml:space="preserve">1.62070</text>
<text transform="translate(1239 138.6) scale(0.939 1)" xml:space="preserve">1.61120</text>
<text transform="translate(1239 171.6) scale(0.939 1)" xml:space="preserve">1.60650</text>
<text transform="translate(1239 204.6) scale(0.939 1)" xml:space="preserve">1.60180</text>
<text transform="translate(1239 237.6) scale(0.939 1)" xml:space="preserve">1.59700</text>
<text transform="translate(1239 270.6) scale(0.939 1)" xml:space="preserve">1.59230</text>
<text transform="translate(1239 303.6) scale(0.939 1)" xml:space="preserve">1.58760</text>
<text transform="translate(1239 336.6) scale(0.939 1)" xml:space="preserve">1.58290</text>
<text transform="translate(1239 369.6) scale(0.939 1)" xml:space="preserve">1.57810</text>
<text transform="translate(1239 402.6) scale(0.939 1)" xml:space="preserve">1.57340</text>
<text transform="translate(1239 435.6) scale(0.939 1)" xml:space="preserve">1.56870</text>
<text transform="translate(1239 468.6) scale(0.939 1)" xml:space="preserve">1.56400</text>
<text transform="translate(1239 501.6) scale(0.939 1)" xml:space="preserve">1.55920</text>
<text transform="translate(1239 534.6) scale(0.939 1)" xml:space="preserve">1.55450</text>
<text transform="translate(1239 567.6) scale(0.939 1)" xml:space="preserve">1.54980</text>
<text transform="translate(1239 600.6) scale(0.939 1)" xml:space="preserve">1.54510</text>
<text transform="translate(1239 633.6) scale(0.939 1)" xml:space="preserve">1.54030</text>
<rect x="1235" y="96" width="41" height="11" fill="#ff0000" shape-rendering="crispEdges"/>
<text transform="translate(1239 104.6) scale(0.939 1)" class="w" xml:space="preserve">1.61607</text>
<rect x="1235" y="239" width="41" height="11" fill="#ff0000" shape-rendering="crispEdges"/>
<text transform="translate(1239 247.6) scale(0.939 1)" class="w" xml:space="preserve">1.59569</text>
<rect x="1235" y="417" width="41" height="11" fill="#ff0000" shape-rendering="crispEdges"/>
<text transform="translate(1239 425.6) scale(0.939 1)" class="w" xml:space="preserve">1.57021</text>
<rect x="1235" y="507" width="41" height="11" fill="#ff0000" shape-rendering="crispEdges"/>
<text transform="translate(1239 515.6) scale(0.939 1)" class="w" xml:space="preserve">1.55723</text>
<rect x="1235" y="605" width="41" height="11" fill="#ff0000" shape-rendering="crispEdges"/>
<text transform="translate(1239 613.6) scale(0.939 1)" class="w" xml:space="preserve">1.54317</text>
<text transform="translate(2.0 647) scale(0.96 1)" xml:space="preserve">8 Aug 2013</text>
<text transform="translate(66.0 647) scale(0.96 1)" xml:space="preserve">12 Aug 20:00</text>
<text transform="translate(130.0 647) scale(0.96 1)" xml:space="preserve">15 Aug 12:00</text>
<text transform="translate(194.0 647) scale(0.96 1)" xml:space="preserve">20 Aug 04:00</text>
<text transform="translate(258.0 647) scale(0.96 1)" xml:space="preserve">22 Aug 20:00</text>
<text transform="translate(322.0 647) scale(0.96 1)" xml:space="preserve">27 Aug 12:00</text>
<text transform="translate(386.0 647) scale(0.96 1)" xml:space="preserve">30 Aug 04:00</text>
<text transform="translate(450.0 647) scale(0.94 1)" xml:space="preserve">3 Sep 2013</text>
<text transform="translate(514.0 647) scale(0.94 1)" xml:space="preserve">5 Sep 20:00</text>
<text transform="translate(578.0 647) scale(0.94 1)" xml:space="preserve">11 Sep 2013</text>
<text transform="translate(642.0 647) scale(0.94 1)" xml:space="preserve">13 Sep 08:00</text>
<text transform="translate(706.0 647) scale(0.94 1)" xml:space="preserve">18 Sep 2013</text>
<text transform="translate(770.0 647) scale(0.94 1)" xml:space="preserve">20 Sep 04:00</text>
<text transform="translate(834.0 647) scale(0.94 1)" xml:space="preserve">25 Sep 2013</text>
<text transform="translate(898.0 647) scale(0.94 1)" xml:space="preserve">27 Sep 12:00</text>
<text transform="translate(962.0 647) scale(0.97 1)" xml:space="preserve">3 Oct 04:00</text>
<rect x="15" y="638" width="80" height="11" fill="#ff0000" shape-rendering="crispEdges"/>
<text transform="translate(55.3 647) scale(0.953 1)" class="w" text-anchor="middle" xml:space="preserve">2013.08.12 08:00</text>
<rect x="127" y="638" width="80" height="11" fill="#ff0000" shape-rendering="crispEdges"/>
<text transform="translate(167.3 647) scale(0.953 1)" class="w" text-anchor="middle" xml:space="preserve">2013.08.19 00:00</text>
<rect x="247" y="638" width="80" height="11" fill="#ff0000" shape-rendering="crispEdges"/>
<text transform="translate(287.3 647) scale(0.953 1)" class="w" text-anchor="middle" xml:space="preserve">2013.08.26 00:00</text>
<rect x="363" y="638" width="80" height="11" fill="#ff0000" shape-rendering="crispEdges"/>
<text transform="translate(403.3 647) scale(0.953 1)" class="w" text-anchor="middle" xml:space="preserve">2013.08.30 20:00</text>
<rect x="483" y="638" width="80" height="11" fill="#ff0000" shape-rendering="crispEdges"/>
<text transform="translate(523.3 647) scale(0.953 1)" class="w" text-anchor="middle" xml:space="preserve">2013.09.06 20:00</text>
<rect x="603" y="638" width="80" height="11" fill="#ff0000" shape-rendering="crispEdges"/>
<text transform="translate(643.3 647) scale(0.953 1)" class="w" text-anchor="middle" xml:space="preserve">2013.09.14 00:00</text>
<rect x="723" y="638" width="80" height="11" fill="#ff0000" shape-rendering="crispEdges"/>
<text transform="translate(763.3 647) scale(0.953 1)" class="w" text-anchor="middle" xml:space="preserve">2013.09.21 00:00</text>
<rect x="843" y="638" width="80" height="11" fill="#ff0000" shape-rendering="crispEdges"/>
<text transform="translate(883.3 647) scale(0.953 1)" class="w" text-anchor="middle" xml:space="preserve">2013.09.28 00:00</text>
<path d="M6 9h7l-3.5 4z" fill="#000"/>
<text transform="translate(17.9 13.8) scale(0.957 1)" xml:space="preserve">GBPUSD,H4</text>
<text transform="translate(77.9 13.8) scale(0.937 1)" xml:space="preserve">1.61672 1.61672 1.61561 1.61605</text>
</svg></body></html>
